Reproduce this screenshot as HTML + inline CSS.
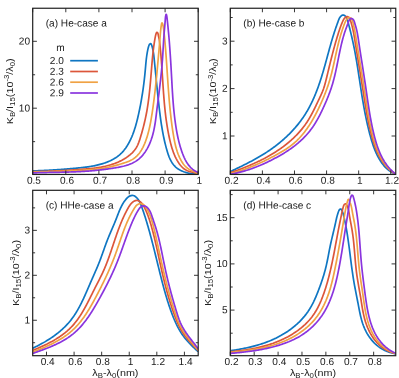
<!DOCTYPE html><html><head><meta charset="utf-8"><style>html,body{margin:0;padding:0;background:#fff}svg{display:block}text{font-family:"Liberation Sans",sans-serif;fill:#202020}</style></head><body>
<svg width="399" height="378" viewBox="0 0 399 378">
<rect width="399" height="378" fill="#fff"/>
<defs>
<clipPath id="ca"><rect x="32.7" y="8.2" width="165.5" height="166.2"/></clipPath>
<clipPath id="cb"><rect x="230.3" y="8.2" width="165.4" height="166.2"/></clipPath>
<clipPath id="cc"><rect x="32.7" y="190.3" width="165.5" height="165.4"/></clipPath>
<clipPath id="cd"><rect x="230.3" y="190.3" width="165.4" height="165.4"/></clipPath>
</defs>
<g clip-path="url(#ca)" fill="none" stroke-width="1.7" stroke-linejoin="round">
<path d="M32.50 170.90 L33.50 170.87 L34.49 170.84 L35.48 170.80 L36.48 170.77 L37.47 170.73 L38.47 170.69 L39.47 170.66 L40.46 170.61 L41.46 170.57 L42.46 170.53 L43.46 170.48 L44.45 170.44 L45.45 170.39 L46.45 170.34 L47.45 170.29 L48.45 170.23 L49.45 170.18 L50.45 170.12 L51.45 170.07 L52.45 170.01 L53.45 169.95 L54.45 169.89 L55.45 169.82 L56.45 169.76 L57.45 169.69 L58.45 169.62 L59.45 169.56 L60.45 169.49 L61.45 169.41 L62.45 169.34 L63.45 169.26 L64.45 169.19 L65.44 169.11 L66.44 169.03 L67.44 168.95 L68.44 168.87 L69.43 168.79 L70.43 168.70 L71.42 168.61 L72.42 168.53 L73.41 168.44 L74.40 168.35 L75.40 168.25 L76.39 168.16 L77.38 168.06 L78.37 167.97 L79.36 167.87 L80.35 167.77 L81.33 167.66 L82.32 167.55 L83.31 167.44 L84.29 167.33 L85.28 167.21 L86.26 167.08 L87.24 166.95 L88.22 166.81 L89.21 166.66 L90.19 166.51 L91.17 166.35 L92.15 166.17 L93.13 166.00 L94.10 165.81 L95.08 165.61 L96.06 165.40 L97.04 165.18 L98.01 164.94 L98.99 164.70 L99.96 164.44 L100.93 164.17 L101.91 163.89 L102.88 163.59 L103.84 163.28 L104.80 162.95 L105.76 162.61 L106.71 162.26 L107.65 161.89 L108.58 161.50 L109.51 161.09 L110.43 160.67 L111.33 160.23 L112.23 159.77 L113.11 159.30 L113.98 158.81 L114.83 158.29 L115.67 157.76 L116.50 157.21 L117.31 156.64 L118.10 156.05 L118.87 155.44 L119.62 154.80 L120.35 154.15 L121.07 153.47 L121.76 152.78 L122.44 152.06 L123.10 151.33 L123.74 150.58 L124.36 149.81 L124.96 149.03 L125.55 148.23 L126.12 147.42 L126.67 146.59 L127.21 145.75 L127.73 144.90 L128.24 144.04 L128.73 143.16 L129.21 142.28 L129.67 141.39 L130.12 140.49 L130.56 139.58 L130.98 138.67 L131.39 137.75 L131.79 136.83 L132.17 135.90 L132.55 134.97 L132.91 134.03 L133.26 133.09 L133.61 132.15 L133.94 131.21 L134.26 130.26 L134.57 129.31 L134.88 128.36 L135.17 127.40 L135.46 126.45 L135.74 125.49 L136.01 124.53 L136.28 123.56 L136.54 122.60 L136.79 121.63 L137.04 120.66 L137.28 119.69 L137.52 118.72 L137.75 117.75 L137.97 116.78 L138.20 115.81 L138.42 114.83 L138.63 113.86 L138.85 112.88 L139.06 111.91 L139.26 110.93 L139.47 109.95 L139.67 108.97 L139.87 108.00 L140.06 107.02 L140.25 106.04 L140.44 105.06 L140.63 104.08 L140.81 103.10 L140.99 102.12 L141.17 101.14 L141.34 100.16 L141.51 99.17 L141.68 98.19 L141.84 97.21 L142.00 96.22 L142.16 95.24 L142.32 94.25 L142.47 93.27 L142.62 92.28 L142.77 91.29 L142.92 90.31 L143.06 89.32 L143.20 88.33 L143.33 87.34 L143.47 86.35 L143.60 85.36 L143.73 84.37 L143.85 83.38 L143.98 82.39 L144.10 81.39 L144.22 80.40 L144.33 79.41 L144.44 78.41 L144.55 77.42 L144.66 76.42 L144.77 75.43 L144.87 74.43 L144.97 73.44 L145.06 72.44 L145.16 71.44 L145.25 70.44 L145.34 69.44 L145.43 68.44 L145.52 67.45 L145.60 66.45 L145.69 65.45 L145.78 64.45 L145.87 63.45 L145.97 62.45 L146.06 61.46 L146.17 60.46 L146.27 59.47 L146.39 58.47 L146.51 57.48 L146.64 56.50 L146.77 55.51 L146.92 54.53 L147.08 53.54 L147.24 52.57 L147.42 51.59 L147.61 50.62 L147.81 49.65 L148.03 48.68 L148.26 47.72 L148.52 46.75 L148.84 45.78 L149.24 44.78 L149.76 43.95 L150.74 43.66 L151.29 44.32 L151.70 45.29 L151.87 45.79 L152.03 46.29 L152.31 47.27 L152.57 48.24 L152.79 49.20 L152.99 50.17 L153.18 51.14 L153.34 52.11 L153.49 53.09 L153.63 54.08 L153.76 55.06 L153.87 56.05 L153.98 57.05 L154.09 58.04 L154.19 59.03 L154.29 60.03 L154.39 61.02 L154.49 62.02 L154.59 63.01 L154.69 64.01 L154.78 65.01 L154.88 66.00 L154.98 67.00 L155.08 68.00 L155.18 68.99 L155.28 69.99 L155.38 70.99 L155.47 71.98 L155.57 72.98 L155.67 73.98 L155.77 74.98 L155.87 75.97 L155.97 76.97 L156.07 77.97 L156.16 78.97 L156.26 79.96 L156.36 80.96 L156.46 81.96 L156.56 82.95 L156.66 83.95 L156.76 84.95 L156.86 85.94 L156.97 86.94 L157.07 87.94 L157.17 88.93 L157.27 89.93 L157.37 90.92 L157.48 91.92 L157.58 92.91 L157.69 93.91 L157.79 94.90 L157.90 95.89 L158.00 96.89 L158.11 97.88 L158.21 98.87 L158.32 99.86 L158.43 100.86 L158.54 101.85 L158.65 102.84 L158.76 103.83 L158.87 104.82 L158.98 105.81 L159.09 106.79 L159.21 107.78 L159.32 108.77 L159.44 109.76 L159.56 110.74 L159.67 111.73 L159.79 112.71 L159.92 113.70 L160.04 114.68 L160.17 115.67 L160.30 116.65 L160.43 117.64 L160.56 118.62 L160.70 119.60 L160.84 120.59 L160.98 121.57 L161.12 122.55 L161.27 123.54 L161.42 124.52 L161.57 125.50 L161.73 126.48 L161.89 127.46 L162.06 128.45 L162.22 129.43 L162.40 130.41 L162.57 131.39 L162.75 132.38 L162.94 133.36 L163.13 134.34 L163.32 135.32 L163.52 136.30 L163.72 137.29 L163.93 138.27 L164.14 139.25 L164.36 140.24 L164.58 141.22 L164.81 142.20 L165.05 143.19 L165.29 144.17 L165.53 145.15 L165.78 146.14 L166.04 147.12 L166.30 148.11 L166.57 149.09 L166.85 150.08 L167.14 151.06 L167.43 152.04 L167.74 153.02 L168.06 153.98 L168.39 154.94 L168.74 155.89 L169.10 156.83 L169.48 157.76 L169.88 158.67 L170.31 159.56 L170.75 160.44 L171.22 161.30 L171.71 162.14 L172.22 162.96 L172.77 163.75 L173.34 164.52 L173.94 165.26 L174.57 165.97 L175.24 166.65 L175.94 167.30 L176.67 167.92 L177.44 168.50 L178.25 169.05 L179.09 169.57 L179.95 170.05 L180.84 170.50 L181.76 170.92 L182.69 171.32 L183.65 171.68 L184.62 172.01 L185.60 172.32 L186.60 172.60 L187.60 172.86 L188.61 173.09 L189.62 173.29 L190.64 173.48 L191.65 173.64 L192.65 173.77 L193.65 173.89 L194.64 173.99 L195.62 174.07 L196.58 174.13 L197.53 174.17 L197.99 174.18" stroke="#0f76c2"/>
<path d="M32.49 171.70 L33.50 171.68 L34.51 171.65 L35.52 171.62 L36.53 171.59 L37.54 171.56 L38.54 171.53 L39.55 171.50 L40.55 171.47 L41.55 171.44 L42.55 171.41 L43.55 171.38 L44.55 171.34 L45.55 171.31 L46.54 171.27 L47.54 171.24 L48.54 171.20 L49.53 171.16 L50.52 171.12 L51.52 171.08 L52.51 171.04 L53.50 171.00 L54.50 170.96 L55.49 170.92 L56.48 170.87 L57.47 170.83 L58.46 170.78 L59.45 170.74 L60.44 170.69 L61.43 170.64 L62.42 170.59 L63.41 170.54 L64.41 170.48 L65.40 170.43 L66.39 170.37 L67.38 170.32 L68.37 170.26 L69.36 170.20 L70.36 170.14 L71.35 170.08 L72.34 170.01 L73.34 169.95 L74.33 169.88 L75.33 169.82 L76.33 169.75 L77.32 169.68 L78.32 169.60 L79.32 169.53 L80.32 169.46 L81.33 169.38 L82.33 169.30 L83.33 169.22 L84.34 169.14 L85.34 169.05 L86.35 168.97 L87.35 168.88 L88.36 168.78 L89.37 168.68 L90.37 168.58 L91.38 168.47 L92.38 168.36 L93.38 168.24 L94.38 168.12 L95.38 167.99 L96.38 167.85 L97.38 167.70 L98.37 167.55 L99.37 167.39 L100.36 167.22 L101.34 167.05 L102.33 166.86 L103.31 166.67 L104.28 166.46 L105.26 166.25 L106.23 166.02 L107.19 165.79 L108.16 165.54 L109.11 165.28 L110.07 165.01 L111.01 164.73 L111.96 164.43 L112.90 164.12 L113.83 163.80 L114.75 163.47 L115.67 163.12 L116.59 162.75 L117.50 162.37 L118.40 161.98 L119.29 161.57 L120.18 161.14 L121.06 160.70 L121.94 160.24 L122.80 159.76 L123.66 159.26 L124.51 158.75 L125.35 158.22 L126.19 157.67 L127.01 157.10 L127.83 156.51 L128.63 155.90 L129.43 155.28 L130.21 154.63 L130.97 153.96 L131.71 153.27 L132.43 152.56 L133.12 151.83 L133.79 151.08 L134.43 150.31 L135.04 149.52 L135.62 148.71 L136.15 147.87 L136.66 147.02 L137.13 146.15 L137.57 145.26 L137.98 144.35 L138.36 143.44 L138.73 142.51 L139.07 141.57 L139.40 140.62 L139.72 139.67 L140.03 138.71 L140.32 137.75 L140.62 136.78 L140.90 135.82 L141.19 134.86 L141.47 133.89 L141.75 132.93 L142.02 131.96 L142.29 131.00 L142.56 130.03 L142.82 129.07 L143.08 128.10 L143.33 127.13 L143.58 126.16 L143.82 125.19 L144.06 124.22 L144.30 123.25 L144.53 122.28 L144.76 121.31 L144.98 120.34 L145.20 119.37 L145.41 118.39 L145.62 117.42 L145.82 116.44 L146.02 115.46 L146.21 114.49 L146.40 113.51 L146.59 112.53 L146.77 111.55 L146.94 110.57 L147.11 109.58 L147.27 108.60 L147.43 107.62 L147.59 106.63 L147.74 105.65 L147.89 104.66 L148.04 103.67 L148.18 102.69 L148.31 101.70 L148.45 100.71 L148.58 99.72 L148.70 98.73 L148.83 97.74 L148.95 96.75 L149.06 95.76 L149.18 94.76 L149.29 93.77 L149.40 92.78 L149.51 91.78 L149.61 90.79 L149.71 89.80 L149.81 88.80 L149.91 87.81 L150.01 86.81 L150.10 85.81 L150.19 84.82 L150.28 83.82 L150.37 82.82 L150.46 81.83 L150.55 80.83 L150.63 79.83 L150.72 78.84 L150.80 77.84 L150.88 76.84 L150.96 75.84 L151.04 74.85 L151.13 73.85 L151.21 72.85 L151.29 71.85 L151.37 70.86 L151.45 69.86 L151.53 68.86 L151.61 67.87 L151.69 66.87 L151.77 65.87 L151.86 64.88 L151.94 63.88 L152.02 62.88 L152.11 61.89 L152.20 60.89 L152.28 59.90 L152.37 58.90 L152.47 57.91 L152.56 56.91 L152.66 55.92 L152.76 54.93 L152.86 53.93 L152.97 52.94 L153.08 51.95 L153.19 50.96 L153.31 49.97 L153.43 48.98 L153.55 47.99 L153.68 47.00 L153.81 46.01 L153.95 45.02 L154.09 44.03 L154.24 43.05 L154.39 42.06 L154.55 41.07 L154.71 40.09 L154.88 39.11 L155.06 38.12 L155.25 37.14 L155.44 36.16 L155.65 35.18 L155.91 34.18 L156.06 33.67 L156.23 33.16 L156.67 32.43 L157.53 32.67 L157.94 33.45 L158.19 34.47 L158.29 35.02 L158.39 35.56 L158.49 36.08 L158.71 37.07 L158.93 38.00 L159.12 38.94 L159.30 39.90 L159.45 40.87 L159.59 41.86 L159.71 42.85 L159.82 43.85 L159.88 44.35 L159.93 44.85 L159.98 45.35 L160.09 46.35 L160.19 47.35 L160.29 48.35 L160.39 49.35 L160.48 50.34 L160.58 51.34 L160.67 52.34 L160.76 53.34 L160.84 54.34 L160.93 55.34 L161.01 56.33 L161.09 57.33 L161.17 58.33 L161.25 59.33 L161.33 60.32 L161.41 61.32 L161.48 62.32 L161.55 63.32 L161.62 64.31 L161.70 65.31 L161.77 66.31 L161.83 67.30 L161.90 68.30 L161.97 69.29 L162.04 70.29 L162.10 71.29 L162.17 72.28 L162.23 73.28 L162.30 74.27 L162.36 75.27 L162.43 76.27 L162.49 77.26 L162.55 78.26 L162.62 79.25 L162.68 80.25 L162.74 81.24 L162.81 82.24 L162.87 83.23 L162.94 84.23 L163.00 85.23 L163.07 86.22 L163.14 87.22 L163.20 88.21 L163.27 89.21 L163.34 90.20 L163.41 91.20 L163.48 92.19 L163.55 93.19 L163.63 94.18 L163.70 95.18 L163.78 96.17 L163.85 97.17 L163.93 98.16 L164.01 99.16 L164.10 100.15 L164.18 101.15 L164.26 102.14 L164.35 103.14 L164.44 104.13 L164.53 105.13 L164.63 106.12 L164.72 107.12 L164.82 108.11 L164.92 109.10 L165.03 110.10 L165.14 111.09 L165.24 112.08 L165.36 113.07 L165.47 114.07 L165.59 115.06 L165.71 116.05 L165.83 117.04 L165.96 118.03 L166.09 119.02 L166.23 120.01 L166.37 121.00 L166.51 121.99 L166.65 122.98 L166.80 123.97 L166.95 124.95 L167.11 125.94 L167.27 126.93 L167.44 127.91 L167.60 128.90 L167.78 129.88 L167.96 130.87 L168.14 131.85 L168.33 132.83 L168.52 133.81 L168.71 134.80 L168.91 135.78 L169.12 136.76 L169.33 137.74 L169.55 138.71 L169.77 139.69 L169.99 140.67 L170.23 141.65 L170.47 142.62 L170.71 143.59 L170.97 144.56 L171.23 145.53 L171.50 146.49 L171.78 147.45 L172.07 148.41 L172.37 149.36 L172.69 150.31 L173.02 151.25 L173.36 152.19 L173.71 153.12 L174.08 154.05 L174.46 154.96 L174.86 155.87 L175.27 156.78 L175.70 157.67 L176.15 158.56 L176.62 159.44 L177.10 160.31 L177.61 161.17 L178.13 162.02 L178.68 162.86 L179.24 163.68 L179.83 164.49 L180.45 165.27 L181.09 166.03 L181.77 166.76 L182.47 167.46 L183.20 168.11 L183.96 168.73 L184.76 169.30 L185.60 169.82 L186.47 170.29 L187.38 170.70 L188.33 171.07 L189.29 171.39 L190.28 171.69 L191.28 171.96 L192.28 172.21 L193.28 172.46 L194.27 172.71 L195.24 172.97 L196.19 173.25 L197.11 173.56 L197.99 173.91 L197.99 173.91" stroke="#dc563a"/>
<path d="M32.50 172.11 L33.50 172.08 L34.50 172.06 L35.50 172.04 L36.50 172.01 L37.51 171.99 L38.51 171.97 L39.51 171.94 L40.51 171.92 L41.51 171.90 L42.51 171.87 L43.50 171.85 L44.50 171.82 L45.50 171.80 L46.50 171.77 L47.50 171.74 L48.50 171.72 L49.50 171.69 L50.49 171.66 L51.49 171.63 L52.49 171.60 L53.49 171.57 L54.49 171.54 L55.48 171.51 L56.48 171.47 L57.48 171.44 L58.48 171.41 L59.47 171.37 L60.47 171.33 L61.47 171.30 L62.46 171.26 L63.46 171.22 L64.46 171.18 L65.46 171.14 L66.45 171.10 L67.45 171.05 L68.45 171.01 L69.45 170.96 L70.44 170.92 L71.44 170.87 L72.44 170.82 L73.44 170.77 L74.44 170.72 L75.44 170.66 L76.43 170.61 L77.43 170.55 L78.43 170.49 L79.43 170.43 L80.43 170.37 L81.43 170.31 L82.43 170.25 L83.43 170.18 L84.43 170.11 L85.43 170.04 L86.43 169.97 L87.43 169.90 L88.43 169.82 L89.43 169.74 L90.43 169.66 L91.43 169.57 L92.43 169.48 L93.43 169.38 L94.43 169.28 L95.42 169.18 L96.42 169.07 L97.41 168.95 L98.40 168.83 L99.39 168.70 L100.38 168.57 L101.37 168.43 L102.35 168.28 L103.33 168.13 L104.31 167.97 L105.29 167.80 L106.27 167.62 L107.24 167.43 L108.21 167.24 L109.18 167.03 L110.14 166.82 L111.11 166.60 L112.07 166.37 L113.03 166.13 L113.99 165.89 L114.95 165.64 L115.91 165.38 L116.87 165.11 L117.84 164.84 L118.80 164.56 L119.77 164.28 L120.74 163.99 L121.72 163.70 L122.69 163.40 L123.67 163.09 L124.65 162.78 L125.63 162.45 L126.60 162.11 L127.55 161.75 L128.50 161.37 L129.43 160.97 L130.34 160.55 L131.24 160.10 L132.10 159.62 L132.95 159.11 L133.76 158.57 L134.55 158.00 L135.30 157.39 L136.04 156.76 L136.74 156.09 L137.42 155.40 L138.07 154.68 L138.71 153.94 L139.31 153.18 L139.90 152.39 L140.46 151.58 L141.00 150.76 L141.52 149.91 L142.02 149.05 L142.50 148.17 L142.97 147.28 L143.41 146.38 L143.84 145.46 L144.25 144.53 L144.65 143.60 L145.03 142.65 L145.40 141.70 L145.75 140.75 L146.09 139.79 L146.42 138.83 L146.74 137.86 L147.05 136.90 L147.34 135.93 L147.63 134.97 L147.91 134.00 L148.17 133.03 L148.43 132.06 L148.68 131.10 L148.92 130.13 L149.15 129.16 L149.38 128.18 L149.59 127.21 L149.80 126.24 L150.01 125.27 L150.21 124.29 L150.40 123.32 L150.58 122.34 L150.77 121.36 L150.94 120.39 L151.11 119.41 L151.28 118.43 L151.44 117.45 L151.61 116.47 L151.76 115.49 L151.92 114.51 L152.07 113.52 L152.22 112.54 L152.37 111.55 L152.51 110.57 L152.66 109.58 L152.80 108.60 L152.94 107.61 L153.08 106.62 L153.22 105.63 L153.35 104.64 L153.48 103.65 L153.62 102.66 L153.75 101.67 L153.87 100.68 L154.00 99.69 L154.13 98.70 L154.25 97.71 L154.37 96.71 L154.49 95.72 L154.61 94.72 L154.73 93.73 L154.84 92.74 L154.96 91.74 L155.07 90.75 L155.18 89.75 L155.30 88.76 L155.41 87.76 L155.51 86.76 L155.62 85.77 L155.73 84.77 L155.83 83.78 L155.94 82.78 L156.04 81.78 L156.14 80.79 L156.24 79.79 L156.34 78.79 L156.44 77.80 L156.54 76.80 L156.64 75.81 L156.74 74.81 L156.83 73.81 L156.93 72.82 L157.02 71.82 L157.12 70.83 L157.21 69.83 L157.30 68.84 L157.39 67.84 L157.48 66.85 L157.57 65.86 L157.67 64.86 L157.76 63.87 L157.84 62.88 L157.93 61.89 L158.02 60.89 L158.11 59.90 L158.20 58.91 L158.29 57.92 L158.37 56.93 L158.46 55.94 L158.55 54.95 L158.63 53.96 L158.72 52.96 L158.81 51.97 L158.89 50.98 L158.98 49.99 L159.06 48.99 L159.15 48.00 L159.23 47.01 L159.32 46.01 L159.40 45.01 L159.49 44.02 L159.57 43.02 L159.66 42.02 L159.70 41.52 L159.74 41.02 L159.78 40.52 L159.82 40.02 L159.87 39.51 L159.91 39.01 L159.95 38.51 L159.99 38.01 L160.04 37.50 L160.08 37.00 L160.12 36.50 L160.16 35.99 L160.21 35.49 L160.25 34.99 L160.29 34.48 L160.33 33.98 L160.38 33.48 L160.47 32.49 L160.56 31.49 L160.65 30.51 L160.75 29.54 L160.85 28.57 L160.97 27.59 L161.10 26.60 L161.18 26.10 L161.26 25.58 L161.35 25.06 L161.46 24.52 L161.57 23.98 L161.69 23.44 L161.99 22.81 L162.57 23.79 L162.73 24.29 L162.87 24.79 L163.10 25.79 L163.27 26.78 L163.43 27.77 L163.57 28.76 L163.70 29.76 L163.82 30.75 L163.93 31.74 L164.04 32.73 L164.14 33.72 L164.25 34.71 L164.35 35.70 L164.45 36.70 L164.55 37.69 L164.65 38.68 L164.74 39.68 L164.83 40.67 L164.93 41.66 L165.02 42.66 L165.10 43.65 L165.19 44.65 L165.28 45.64 L165.36 46.64 L165.44 47.63 L165.53 48.63 L165.61 49.62 L165.69 50.62 L165.76 51.62 L165.84 52.61 L165.92 53.61 L165.99 54.61 L166.07 55.60 L166.14 56.60 L166.21 57.60 L166.28 58.60 L166.36 59.59 L166.43 60.59 L166.50 61.59 L166.56 62.59 L166.63 63.58 L166.70 64.58 L166.77 65.58 L166.84 66.58 L166.90 67.58 L166.97 68.57 L167.04 69.57 L167.10 70.57 L167.17 71.57 L167.24 72.57 L167.30 73.56 L167.37 74.56 L167.43 75.56 L167.50 76.56 L167.57 77.56 L167.63 78.56 L167.70 79.55 L167.77 80.55 L167.84 81.55 L167.90 82.55 L167.97 83.55 L168.04 84.54 L168.11 85.54 L168.18 86.54 L168.25 87.54 L168.32 88.53 L168.40 89.53 L168.47 90.53 L168.54 91.52 L168.62 92.52 L168.70 93.52 L168.77 94.51 L168.85 95.51 L168.93 96.51 L169.01 97.50 L169.09 98.50 L169.17 99.49 L169.26 100.49 L169.34 101.49 L169.43 102.48 L169.52 103.48 L169.61 104.47 L169.70 105.47 L169.79 106.46 L169.89 107.46 L169.99 108.45 L170.08 109.44 L170.18 110.44 L170.29 111.43 L170.39 112.42 L170.50 113.42 L170.60 114.41 L170.72 115.40 L170.83 116.40 L170.94 117.39 L171.06 118.38 L171.18 119.37 L171.30 120.36 L171.42 121.36 L171.55 122.35 L171.68 123.34 L171.81 124.33 L171.94 125.32 L172.08 126.31 L172.22 127.30 L172.36 128.29 L172.51 129.28 L172.65 130.27 L172.80 131.25 L172.96 132.24 L173.11 133.23 L173.27 134.22 L173.44 135.21 L173.60 136.19 L173.77 137.18 L173.95 138.16 L174.13 139.15 L174.32 140.13 L174.51 141.11 L174.71 142.09 L174.93 143.07 L175.14 144.04 L175.37 145.01 L175.61 145.98 L175.86 146.95 L176.12 147.91 L176.40 148.87 L176.68 149.82 L176.98 150.77 L177.29 151.72 L177.62 152.66 L177.96 153.60 L178.32 154.53 L178.70 155.45 L179.09 156.37 L179.50 157.29 L179.93 158.20 L180.38 159.10 L180.84 160.00 L181.33 160.88 L181.85 161.75 L182.38 162.60 L182.95 163.43 L183.54 164.24 L184.16 165.01 L184.81 165.76 L185.50 166.47 L186.21 167.15 L186.97 167.79 L187.76 168.38 L188.59 168.92 L189.44 169.44 L190.32 169.92 L191.22 170.37 L192.13 170.81 L193.05 171.23 L193.97 171.65 L194.89 172.07 L195.80 172.49 L196.70 172.92 L197.57 173.37 L198.00 173.60" stroke="#f0a244"/>
<path d="M32.51 172.92 L33.50 172.88 L34.49 172.85 L35.48 172.81 L36.47 172.78 L37.46 172.75 L38.45 172.72 L39.45 172.70 L40.44 172.67 L41.44 172.65 L42.43 172.62 L43.43 172.60 L44.43 172.58 L45.43 172.55 L46.43 172.53 L47.43 172.51 L48.43 172.49 L49.44 172.47 L50.44 172.45 L51.44 172.44 L52.44 172.42 L53.45 172.40 L54.45 172.38 L55.46 172.36 L56.46 172.34 L57.47 172.32 L58.47 172.30 L59.48 172.28 L60.48 172.26 L61.49 172.24 L62.49 172.21 L63.50 172.19 L64.50 172.16 L65.51 172.14 L66.51 172.11 L67.51 172.08 L68.52 172.05 L69.52 172.02 L70.52 171.99 L71.53 171.96 L72.53 171.92 L73.53 171.88 L74.53 171.85 L75.53 171.80 L76.53 171.76 L77.53 171.72 L78.52 171.67 L79.52 171.62 L80.52 171.57 L81.51 171.51 L82.50 171.45 L83.50 171.39 L84.49 171.33 L85.48 171.27 L86.46 171.20 L87.45 171.13 L88.44 171.05 L89.42 170.98 L90.41 170.90 L91.39 170.81 L92.37 170.73 L93.36 170.64 L94.34 170.54 L95.32 170.45 L96.30 170.35 L97.29 170.25 L98.27 170.14 L99.25 170.03 L100.24 169.92 L101.22 169.81 L102.21 169.69 L103.20 169.57 L104.18 169.44 L105.17 169.31 L106.16 169.18 L107.16 169.05 L108.15 168.91 L109.15 168.77 L110.15 168.62 L111.15 168.47 L112.15 168.32 L113.16 168.16 L114.17 168.00 L115.18 167.84 L116.19 167.67 L117.20 167.49 L118.21 167.31 L119.21 167.12 L120.22 166.92 L121.22 166.70 L122.22 166.48 L123.21 166.24 L124.19 166.00 L125.17 165.73 L126.14 165.45 L127.10 165.16 L128.05 164.85 L128.99 164.52 L129.92 164.17 L130.83 163.80 L131.74 163.41 L132.62 163.00 L133.50 162.56 L134.35 162.10 L135.19 161.62 L136.02 161.11 L136.82 160.57 L137.60 160.01 L138.37 159.41 L139.11 158.80 L139.84 158.15 L140.54 157.49 L141.23 156.79 L141.90 156.08 L142.55 155.35 L143.18 154.59 L143.79 153.82 L144.39 153.02 L144.97 152.21 L145.53 151.38 L146.07 150.54 L146.59 149.68 L147.10 148.81 L147.59 147.93 L148.06 147.03 L148.52 146.12 L148.96 145.21 L149.38 144.28 L149.79 143.35 L150.18 142.41 L150.55 141.46 L150.91 140.51 L151.26 139.55 L151.58 138.59 L151.90 137.63 L152.20 136.67 L152.48 135.70 L152.75 134.74 L153.01 133.77 L153.25 132.80 L153.49 131.83 L153.71 130.86 L153.92 129.88 L154.12 128.91 L154.32 127.93 L154.50 126.95 L154.68 125.97 L154.84 124.99 L155.00 124.01 L155.16 123.03 L155.31 122.04 L155.45 121.06 L155.59 120.07 L155.72 119.09 L155.85 118.10 L155.98 117.12 L156.11 116.13 L156.23 115.14 L156.35 114.15 L156.47 113.16 L156.60 112.17 L156.72 111.18 L156.84 110.19 L156.96 109.20 L157.09 108.21 L157.21 107.22 L157.34 106.23 L157.46 105.24 L157.59 104.25 L157.71 103.26 L157.84 102.27 L157.96 101.28 L158.09 100.29 L158.21 99.29 L158.34 98.30 L158.46 97.31 L158.59 96.32 L158.71 95.32 L158.84 94.33 L158.96 93.34 L159.08 92.35 L159.21 91.35 L159.33 90.36 L159.45 89.37 L159.57 88.37 L159.69 87.38 L159.81 86.38 L159.93 85.39 L160.04 84.40 L160.16 83.40 L160.27 82.41 L160.39 81.41 L160.50 80.42 L160.61 79.43 L160.72 78.43 L160.83 77.44 L160.94 76.44 L161.04 75.45 L161.15 74.45 L161.25 73.46 L161.35 72.46 L161.45 71.47 L161.54 70.47 L161.64 69.48 L161.73 68.48 L161.82 67.49 L161.91 66.49 L162.00 65.50 L162.08 64.50 L162.16 63.51 L162.24 62.51 L162.32 61.51 L162.40 60.52 L162.47 59.52 L162.54 58.53 L162.61 57.53 L162.67 56.54 L162.74 55.54 L162.80 54.55 L162.86 53.55 L162.92 52.56 L162.98 51.56 L163.04 50.57 L163.09 49.57 L163.15 48.57 L163.21 47.58 L163.27 46.58 L163.32 45.58 L163.38 44.59 L163.44 43.59 L163.50 42.59 L163.56 41.60 L163.62 40.60 L163.69 39.60 L163.75 38.60 L163.82 37.61 L163.89 36.61 L163.96 35.61 L164.03 34.61 L164.11 33.61 L164.19 32.61 L164.27 31.61 L164.36 30.61 L164.44 29.61 L164.53 28.62 L164.62 27.62 L164.71 26.62 L164.79 25.62 L164.88 24.63 L164.96 23.63 L165.04 22.64 L165.12 21.65 L165.20 20.66 L165.27 19.67 L165.34 18.68 L165.42 17.69 L165.48 17.19 L165.55 16.68 L165.63 16.17 L165.73 15.65 L165.84 15.12 L166.12 14.28 L166.56 15.02 L166.68 15.60 L166.78 16.16 L166.86 16.68 L166.93 17.19 L167.05 18.16 L167.16 19.12 L167.27 20.11 L167.38 21.10 L167.49 22.10 L167.59 23.09 L167.70 24.09 L167.80 25.09 L167.91 26.08 L168.01 27.08 L168.10 28.07 L168.20 29.07 L168.30 30.07 L168.39 31.06 L168.48 32.06 L168.58 33.06 L168.67 34.05 L168.76 35.05 L168.84 36.04 L168.93 37.04 L169.01 38.04 L169.10 39.03 L169.18 40.03 L169.26 41.02 L169.34 42.02 L169.42 43.02 L169.50 44.01 L169.57 45.01 L169.65 46.01 L169.72 47.00 L169.80 48.00 L169.87 48.99 L169.94 49.99 L170.01 50.99 L170.08 51.98 L170.15 52.98 L170.22 53.98 L170.28 54.97 L170.35 55.97 L170.41 56.97 L170.48 57.96 L170.54 58.96 L170.61 59.96 L170.67 60.95 L170.73 61.95 L170.79 62.95 L170.85 63.94 L170.91 64.94 L170.97 65.94 L171.03 66.93 L171.08 67.93 L171.14 68.93 L171.20 69.93 L171.25 70.92 L171.31 71.92 L171.36 72.92 L171.42 73.91 L171.47 74.91 L171.53 75.91 L171.58 76.91 L171.64 77.91 L171.69 78.90 L171.74 79.90 L171.80 80.90 L171.85 81.90 L171.91 82.89 L171.96 83.89 L172.02 84.89 L172.07 85.89 L172.13 86.89 L172.19 87.88 L172.25 88.88 L172.30 89.88 L172.36 90.88 L172.43 91.87 L172.49 92.87 L172.55 93.87 L172.62 94.86 L172.68 95.86 L172.75 96.86 L172.82 97.85 L172.89 98.85 L172.97 99.85 L173.04 100.84 L173.12 101.84 L173.20 102.84 L173.28 103.83 L173.36 104.83 L173.44 105.82 L173.53 106.82 L173.62 107.81 L173.71 108.81 L173.81 109.80 L173.91 110.79 L174.01 111.79 L174.11 112.78 L174.22 113.77 L174.33 114.77 L174.44 115.76 L174.56 116.75 L174.68 117.74 L174.80 118.73 L174.92 119.73 L175.05 120.72 L175.19 121.71 L175.32 122.70 L175.46 123.69 L175.61 124.68 L175.76 125.66 L175.91 126.65 L176.07 127.64 L176.23 128.63 L176.39 129.62 L176.56 130.60 L176.74 131.59 L176.92 132.57 L177.10 133.56 L177.30 134.54 L177.49 135.52 L177.70 136.50 L177.91 137.48 L178.12 138.45 L178.34 139.43 L178.57 140.40 L178.81 141.38 L179.06 142.35 L179.31 143.31 L179.57 144.28 L179.84 145.24 L180.11 146.20 L180.40 147.16 L180.69 148.12 L181.00 149.07 L181.31 150.02 L181.63 150.97 L181.96 151.92 L182.30 152.86 L182.65 153.80 L183.02 154.73 L183.39 155.66 L183.78 156.58 L184.18 157.50 L184.60 158.40 L185.03 159.30 L185.48 160.18 L185.96 161.05 L186.45 161.91 L186.96 162.74 L187.50 163.57 L188.05 164.37 L188.64 165.15 L189.25 165.91 L189.89 166.65 L190.55 167.36 L191.25 168.05 L191.98 168.71 L192.74 169.35 L193.53 169.95 L194.36 170.52 L195.22 171.06 L196.12 171.57 L197.06 172.04 L198.04 172.47 L198.04 172.47" stroke="#8a34de"/>
</g>
<path d="M32.70 174.45 v-4.0 M32.70 8.25 v4.0 M65.80 174.45 v-4.0 M65.80 8.25 v4.0 M98.90 174.45 v-4.0 M98.90 8.25 v4.0 M132.00 174.45 v-4.0 M132.00 8.25 v4.0 M165.10 174.45 v-4.0 M165.10 8.25 v4.0 M198.20 174.45 v-4.0 M198.20 8.25 v4.0 M32.70 108.20 h4.2 M198.20 108.20 h-4.2 M32.70 41.30 h4.2 M198.20 41.30 h-4.2 M32.70 141.65 h2.4 M198.20 141.65 h-2.4 M32.70 74.75 h2.4 M198.20 74.75 h-2.4" stroke="#202020" stroke-width="0.9" fill="none"/>
<rect x="32.70" y="8.25" width="165.50" height="166.20" fill="none" stroke="#202020" stroke-width="1.2"/>
<g clip-path="url(#cb)" fill="none" stroke-width="1.7" stroke-linejoin="round">
<path d="M230.29 171.60 L231.20 171.17 L232.11 170.74 L233.02 170.30 L233.92 169.87 L234.83 169.44 L235.73 169.01 L236.64 168.57 L237.54 168.14 L238.44 167.70 L239.34 167.27 L240.24 166.83 L241.14 166.39 L242.04 165.94 L242.93 165.50 L243.83 165.05 L244.72 164.61 L245.61 164.16 L246.50 163.70 L247.39 163.25 L248.27 162.79 L249.16 162.33 L250.04 161.87 L250.92 161.40 L251.80 160.94 L252.67 160.46 L253.55 159.99 L254.42 159.51 L255.29 159.03 L256.16 158.54 L257.02 158.05 L257.88 157.56 L258.74 157.06 L259.60 156.56 L260.46 156.06 L261.31 155.55 L262.16 155.03 L263.01 154.51 L263.85 153.99 L264.69 153.46 L265.53 152.93 L266.37 152.39 L267.20 151.85 L268.03 151.30 L268.86 150.74 L269.68 150.18 L270.50 149.62 L271.32 149.04 L272.14 148.47 L272.95 147.88 L273.75 147.29 L274.56 146.70 L275.36 146.10 L276.16 145.49 L276.95 144.88 L277.74 144.26 L278.52 143.63 L279.30 143.00 L280.08 142.36 L280.85 141.72 L281.62 141.07 L282.38 140.42 L283.14 139.76 L283.89 139.09 L284.64 138.42 L285.38 137.74 L286.12 137.06 L286.85 136.37 L287.58 135.68 L288.30 134.98 L289.02 134.28 L289.73 133.56 L290.43 132.85 L291.13 132.13 L291.82 131.40 L292.51 130.67 L293.19 129.93 L293.86 129.19 L294.53 128.44 L295.19 127.69 L295.85 126.93 L296.49 126.17 L297.13 125.40 L297.77 124.62 L298.39 123.85 L299.01 123.06 L299.63 122.27 L300.23 121.48 L300.83 120.68 L301.42 119.87 L302.00 119.06 L302.57 118.25 L303.14 117.43 L303.70 116.61 L304.25 115.78 L304.79 114.94 L305.32 114.11 L305.85 113.26 L306.36 112.41 L306.87 111.56 L307.38 110.71 L307.87 109.84 L308.36 108.98 L308.84 108.11 L309.31 107.24 L309.77 106.36 L310.23 105.48 L310.68 104.59 L311.13 103.70 L311.56 102.81 L311.99 101.91 L312.42 101.01 L312.84 100.11 L313.25 99.20 L313.66 98.30 L314.06 97.38 L314.45 96.47 L314.84 95.55 L315.22 94.63 L315.60 93.70 L315.97 92.78 L316.34 91.85 L316.70 90.92 L317.06 89.98 L317.41 89.05 L317.76 88.11 L318.10 87.17 L318.44 86.23 L318.77 85.28 L319.10 84.34 L319.43 83.39 L319.75 82.44 L320.06 81.49 L320.38 80.54 L320.69 79.59 L320.99 78.63 L321.30 77.67 L321.60 76.72 L321.89 75.76 L322.19 74.80 L322.48 73.84 L322.76 72.88 L323.05 71.92 L323.33 70.96 L323.61 70.00 L323.89 69.03 L324.16 68.07 L324.44 67.11 L324.71 66.14 L324.98 65.18 L325.24 64.21 L325.51 63.25 L325.78 62.29 L326.04 61.32 L326.31 60.36 L326.57 59.39 L326.83 58.43 L327.09 57.46 L327.35 56.50 L327.62 55.53 L327.88 54.57 L328.14 53.60 L328.40 52.64 L328.66 51.68 L328.93 50.71 L329.19 49.75 L329.45 48.79 L329.72 47.83 L329.99 46.87 L330.26 45.91 L330.53 44.95 L330.80 43.99 L331.07 43.03 L331.35 42.07 L331.62 41.11 L331.90 40.16 L332.19 39.20 L332.47 38.25 L332.76 37.29 L333.05 36.34 L333.35 35.39 L333.64 34.44 L333.95 33.49 L334.25 32.54 L334.56 31.60 L334.87 30.65 L335.19 29.71 L335.51 28.76 L335.83 27.82 L336.16 26.88 L336.49 25.94 L336.83 25.00 L337.17 24.06 L337.50 23.12 L337.84 22.17 L338.17 21.22 L338.52 20.26 L338.89 19.32 L339.31 18.41 L339.81 17.54 L340.40 16.72 L341.10 15.98 L341.91 15.37 L342.77 15.03 L343.65 15.06 L344.51 15.47 L345.29 16.12 L345.96 16.90 L346.51 17.74 L346.95 18.63 L347.31 19.56 L347.62 20.51 L347.89 21.48 L348.15 22.45 L348.41 23.43 L348.66 24.40 L348.92 25.37 L349.17 26.34 L349.42 27.31 L349.67 28.29 L349.91 29.26 L350.16 30.23 L350.40 31.20 L350.64 32.17 L350.87 33.14 L351.11 34.11 L351.34 35.08 L351.57 36.05 L351.80 37.02 L352.02 37.99 L352.24 38.96 L352.46 39.93 L352.68 40.90 L352.89 41.87 L353.10 42.85 L353.31 43.82 L353.52 44.79 L353.72 45.77 L353.92 46.74 L354.12 47.72 L354.31 48.70 L354.50 49.67 L354.69 50.65 L354.88 51.63 L355.06 52.61 L355.24 53.59 L355.42 54.57 L355.60 55.56 L355.78 56.54 L355.95 57.52 L356.12 58.50 L356.29 59.49 L356.46 60.47 L356.62 61.46 L356.79 62.44 L356.95 63.43 L357.11 64.41 L357.27 65.40 L357.43 66.39 L357.59 67.37 L357.75 68.36 L357.90 69.35 L358.06 70.34 L358.21 71.32 L358.37 72.31 L358.52 73.30 L358.67 74.29 L358.82 75.28 L358.97 76.27 L359.12 77.26 L359.27 78.25 L359.42 79.23 L359.57 80.22 L359.72 81.21 L359.87 82.20 L360.02 83.19 L360.17 84.18 L360.32 85.17 L360.48 86.16 L360.63 87.15 L360.78 88.14 L360.93 89.13 L361.08 90.11 L361.24 91.10 L361.39 92.09 L361.55 93.08 L361.71 94.07 L361.86 95.05 L362.02 96.04 L362.18 97.03 L362.34 98.01 L362.51 99.00 L362.67 99.99 L362.84 100.97 L363.00 101.96 L363.17 102.94 L363.34 103.93 L363.52 104.91 L363.69 105.89 L363.87 106.88 L364.04 107.86 L364.22 108.84 L364.40 109.82 L364.59 110.80 L364.77 111.78 L364.96 112.77 L365.15 113.75 L365.35 114.72 L365.54 115.70 L365.74 116.68 L365.94 117.66 L366.14 118.64 L366.35 119.61 L366.56 120.59 L366.77 121.56 L366.99 122.54 L367.20 123.51 L367.42 124.49 L367.65 125.46 L367.87 126.43 L368.10 127.40 L368.34 128.37 L368.57 129.34 L368.82 130.31 L369.06 131.28 L369.31 132.25 L369.56 133.21 L369.81 134.18 L370.07 135.14 L370.33 136.11 L370.60 137.07 L370.87 138.03 L371.15 138.99 L371.43 139.95 L371.71 140.91 L372.01 141.87 L372.31 142.82 L372.62 143.77 L372.93 144.72 L373.25 145.66 L373.59 146.60 L373.93 147.54 L374.28 148.48 L374.64 149.41 L375.01 150.33 L375.39 151.25 L375.79 152.17 L376.19 153.08 L376.61 153.99 L377.04 154.89 L377.49 155.78 L377.95 156.67 L378.42 157.55 L378.91 158.43 L379.41 159.30 L379.93 160.16 L380.47 161.01 L381.02 161.85 L381.59 162.67 L382.18 163.49 L382.79 164.29 L383.41 165.07 L384.05 165.83 L384.72 166.58 L385.40 167.30 L386.10 168.01 L386.82 168.69 L387.57 169.34 L388.33 169.97 L389.12 170.57 L389.93 171.14 L390.76 171.68 L391.62 172.19 L392.50 172.67 L393.40 173.11 L394.33 173.51 L394.80 173.70" stroke="#0f76c2"/>
<path d="M230.31 172.82 L231.25 172.49 L232.19 172.15 L233.12 171.82 L234.06 171.48 L235.00 171.14 L235.93 170.79 L236.87 170.44 L237.81 170.10 L238.74 169.74 L239.67 169.39 L240.61 169.03 L241.54 168.67 L242.47 168.31 L243.40 167.94 L244.33 167.57 L245.25 167.19 L246.18 166.82 L247.10 166.44 L248.03 166.05 L248.95 165.67 L249.87 165.27 L250.79 164.88 L251.70 164.48 L252.62 164.08 L253.53 163.67 L254.44 163.26 L255.35 162.84 L256.26 162.42 L257.17 162.00 L258.07 161.57 L258.97 161.13 L259.87 160.70 L260.76 160.25 L261.66 159.81 L262.55 159.35 L263.44 158.90 L264.32 158.43 L265.21 157.97 L266.09 157.49 L266.97 157.02 L267.84 156.53 L268.71 156.04 L269.58 155.55 L270.45 155.05 L271.31 154.54 L272.17 154.03 L273.02 153.51 L273.88 152.99 L274.73 152.46 L275.57 151.92 L276.41 151.38 L277.25 150.83 L278.08 150.28 L278.91 149.72 L279.74 149.15 L280.56 148.58 L281.38 148.00 L282.19 147.42 L283.00 146.82 L283.80 146.23 L284.59 145.62 L285.39 145.01 L286.17 144.39 L286.95 143.77 L287.73 143.14 L288.50 142.50 L289.26 141.86 L290.02 141.21 L290.77 140.55 L291.51 139.89 L292.25 139.22 L292.98 138.54 L293.71 137.86 L294.43 137.17 L295.14 136.47 L295.84 135.77 L296.54 135.06 L297.23 134.34 L297.91 133.62 L298.58 132.89 L299.25 132.15 L299.91 131.40 L300.56 130.65 L301.20 129.89 L301.83 129.13 L302.46 128.35 L303.07 127.57 L303.68 126.78 L304.28 125.99 L304.87 125.19 L305.45 124.38 L306.02 123.56 L306.58 122.74 L307.13 121.91 L307.67 121.07 L308.21 120.22 L308.73 119.37 L309.24 118.51 L309.75 117.65 L310.25 116.78 L310.74 115.90 L311.22 115.02 L311.70 114.13 L312.17 113.25 L312.64 112.35 L313.10 111.46 L313.55 110.56 L314.00 109.66 L314.45 108.75 L314.89 107.85 L315.33 106.94 L315.77 106.03 L316.20 105.12 L316.64 104.22 L317.07 103.31 L317.50 102.40 L317.93 101.49 L318.36 100.59 L318.79 99.68 L319.22 98.78 L319.65 97.88 L320.08 96.98 L320.50 96.08 L320.91 95.17 L321.32 94.27 L321.72 93.36 L322.11 92.45 L322.49 91.54 L322.85 90.62 L323.20 89.69 L323.54 88.76 L323.86 87.82 L324.16 86.88 L324.45 85.93 L324.73 84.98 L325.00 84.02 L325.26 83.06 L325.52 82.10 L325.76 81.13 L326.01 80.16 L326.24 79.19 L326.48 78.22 L326.72 77.25 L326.95 76.27 L327.19 75.30 L327.42 74.33 L327.66 73.35 L327.89 72.38 L328.13 71.40 L328.36 70.43 L328.60 69.45 L328.84 68.48 L329.07 67.50 L329.31 66.53 L329.55 65.55 L329.79 64.58 L330.03 63.60 L330.27 62.63 L330.51 61.66 L330.75 60.68 L330.99 59.71 L331.24 58.73 L331.48 57.76 L331.73 56.79 L331.98 55.82 L332.23 54.85 L332.48 53.88 L332.73 52.91 L332.99 51.94 L333.24 50.97 L333.50 50.00 L333.76 49.04 L334.02 48.07 L334.28 47.11 L334.55 46.14 L334.81 45.18 L335.08 44.22 L335.35 43.26 L335.62 42.30 L335.90 41.34 L336.18 40.39 L336.46 39.43 L336.74 38.48 L337.02 37.53 L337.31 36.58 L337.60 35.63 L337.90 34.68 L338.19 33.74 L338.49 32.80 L338.79 31.85 L339.10 30.91 L339.41 29.98 L339.73 29.04 L340.05 28.10 L340.38 27.16 L340.73 26.23 L341.08 25.29 L341.45 24.35 L341.83 23.41 L342.22 22.47 L342.63 21.53 L343.06 20.59 L343.53 19.69 L344.05 18.84 L344.65 18.08 L345.36 17.44 L346.18 16.94 L347.12 16.68 L348.08 16.88 L348.91 17.52 L349.53 18.32 L349.97 19.21 L350.32 20.15 L350.64 21.09 L350.94 22.04 L351.24 22.99 L351.52 23.94 L351.78 24.90 L352.04 25.86 L352.28 26.83 L352.52 27.79 L352.74 28.76 L352.96 29.74 L353.17 30.71 L353.37 31.69 L353.56 32.67 L353.74 33.65 L353.93 34.63 L354.10 35.61 L354.27 36.60 L354.44 37.58 L354.60 38.57 L354.76 39.56 L354.92 40.55 L355.08 41.53 L355.23 42.52 L355.39 43.51 L355.55 44.50 L355.70 45.49 L355.86 46.48 L356.02 47.47 L356.18 48.46 L356.34 49.45 L356.50 50.44 L356.66 51.43 L356.82 52.41 L356.98 53.40 L357.14 54.39 L357.30 55.38 L357.47 56.37 L357.63 57.36 L357.79 58.35 L357.95 59.33 L358.11 60.32 L358.28 61.31 L358.44 62.30 L358.60 63.29 L358.77 64.27 L358.93 65.26 L359.09 66.25 L359.25 67.24 L359.42 68.22 L359.58 69.21 L359.74 70.20 L359.90 71.19 L360.07 72.17 L360.23 73.16 L360.39 74.15 L360.55 75.13 L360.71 76.12 L360.88 77.11 L361.04 78.09 L361.20 79.08 L361.36 80.07 L361.52 81.05 L361.68 82.04 L361.84 83.02 L361.99 84.01 L362.15 84.99 L362.31 85.98 L362.47 86.96 L362.62 87.95 L362.78 88.93 L362.93 89.92 L363.09 90.90 L363.24 91.89 L363.40 92.87 L363.55 93.86 L363.70 94.84 L363.86 95.82 L364.01 96.81 L364.16 97.79 L364.32 98.77 L364.47 99.76 L364.63 100.74 L364.79 101.72 L364.94 102.71 L365.10 103.69 L365.26 104.67 L365.42 105.65 L365.58 106.63 L365.75 107.62 L365.91 108.60 L366.08 109.58 L366.25 110.56 L366.42 111.54 L366.59 112.52 L366.77 113.50 L366.94 114.48 L367.12 115.46 L367.31 116.44 L367.49 117.42 L367.68 118.40 L367.87 119.38 L368.07 120.36 L368.26 121.34 L368.46 122.32 L368.67 123.30 L368.88 124.28 L369.09 125.25 L369.30 126.23 L369.52 127.21 L369.75 128.19 L369.97 129.17 L370.21 130.14 L370.44 131.12 L370.68 132.10 L370.93 133.07 L371.18 134.05 L371.43 135.03 L371.69 136.00 L371.96 136.98 L372.23 137.95 L372.51 138.92 L372.79 139.89 L373.08 140.86 L373.38 141.83 L373.69 142.79 L374.00 143.75 L374.32 144.71 L374.65 145.66 L374.99 146.61 L375.34 147.55 L375.70 148.49 L376.07 149.42 L376.45 150.35 L376.84 151.27 L377.24 152.18 L377.65 153.09 L378.07 153.99 L378.51 154.88 L378.96 155.76 L379.42 156.64 L379.90 157.50 L380.39 158.36 L380.89 159.20 L381.41 160.04 L381.94 160.86 L382.49 161.68 L383.05 162.48 L383.63 163.27 L384.22 164.05 L384.83 164.82 L385.46 165.57 L386.11 166.31 L386.77 167.04 L387.45 167.75 L388.15 168.45 L388.87 169.13 L389.61 169.80 L390.36 170.45 L391.14 171.09 L391.94 171.71 L392.75 172.31 L393.59 172.90 L394.45 173.47 L394.89 173.74" stroke="#dc563a"/>
<path d="M230.29 173.59 L231.27 173.35 L232.24 173.09 L233.21 172.83 L234.18 172.56 L235.14 172.29 L236.10 172.01 L237.06 171.72 L238.02 171.43 L238.98 171.13 L239.93 170.83 L240.88 170.52 L241.82 170.21 L242.77 169.89 L243.71 169.56 L244.65 169.23 L245.59 168.90 L246.53 168.56 L247.46 168.21 L248.39 167.86 L249.32 167.50 L250.25 167.14 L251.17 166.77 L252.10 166.40 L253.02 166.02 L253.94 165.64 L254.86 165.26 L255.77 164.87 L256.69 164.47 L257.60 164.07 L258.51 163.67 L259.42 163.26 L260.33 162.85 L261.23 162.43 L262.13 162.01 L263.04 161.59 L263.94 161.16 L264.84 160.72 L265.73 160.29 L266.63 159.85 L267.53 159.40 L268.42 158.95 L269.31 158.50 L270.20 158.05 L271.09 157.59 L271.98 157.12 L272.87 156.66 L273.75 156.19 L274.64 155.72 L275.52 155.24 L276.40 154.76 L277.28 154.28 L278.16 153.79 L279.04 153.30 L279.91 152.80 L280.78 152.30 L281.64 151.79 L282.51 151.28 L283.36 150.76 L284.21 150.23 L285.06 149.70 L285.90 149.16 L286.74 148.61 L287.56 148.05 L288.39 147.48 L289.20 146.91 L290.01 146.32 L290.81 145.73 L291.60 145.12 L292.38 144.51 L293.15 143.88 L293.91 143.25 L294.67 142.60 L295.41 141.94 L296.14 141.27 L296.87 140.59 L297.58 139.89 L298.28 139.19 L298.98 138.48 L299.66 137.75 L300.34 137.02 L301.00 136.28 L301.66 135.53 L302.30 134.77 L302.94 134.00 L303.57 133.22 L304.19 132.44 L304.80 131.65 L305.41 130.85 L306.00 130.05 L306.59 129.24 L307.17 128.42 L307.74 127.60 L308.30 126.77 L308.86 125.94 L309.40 125.11 L309.94 124.27 L310.48 123.42 L311.00 122.57 L311.52 121.72 L312.03 120.86 L312.53 120.00 L313.03 119.14 L313.52 118.27 L314.01 117.39 L314.49 116.52 L314.96 115.64 L315.43 114.76 L315.89 113.88 L316.35 112.99 L316.80 112.10 L317.25 111.20 L317.69 110.31 L318.13 109.41 L318.56 108.51 L318.99 107.61 L319.42 106.70 L319.84 105.80 L320.26 104.89 L320.67 103.98 L321.08 103.07 L321.49 102.15 L321.89 101.24 L322.29 100.32 L322.69 99.40 L323.08 98.48 L323.47 97.56 L323.85 96.63 L324.23 95.71 L324.60 94.78 L324.97 93.85 L325.34 92.92 L325.70 91.98 L326.05 91.05 L326.40 90.11 L326.74 89.17 L327.08 88.24 L327.41 87.29 L327.74 86.35 L328.06 85.40 L328.37 84.46 L328.68 83.51 L328.98 82.56 L329.27 81.61 L329.56 80.65 L329.84 79.70 L330.12 78.74 L330.39 77.78 L330.65 76.82 L330.91 75.86 L331.16 74.90 L331.41 73.93 L331.66 72.97 L331.90 72.00 L332.14 71.03 L332.37 70.07 L332.60 69.10 L332.83 68.13 L333.05 67.15 L333.28 66.18 L333.50 65.21 L333.71 64.24 L333.93 63.26 L334.15 62.29 L334.36 61.31 L334.57 60.34 L334.78 59.36 L335.00 58.38 L335.21 57.41 L335.42 56.43 L335.63 55.45 L335.85 54.48 L336.06 53.50 L336.28 52.52 L336.49 51.55 L336.71 50.57 L336.93 49.60 L337.16 48.62 L337.38 47.64 L337.61 46.67 L337.84 45.69 L338.08 44.72 L338.32 43.75 L338.56 42.77 L338.80 41.80 L339.06 40.83 L339.31 39.86 L339.57 38.89 L339.84 37.92 L340.11 36.96 L340.39 35.99 L340.67 35.03 L340.96 34.06 L341.25 33.10 L341.55 32.15 L341.86 31.19 L342.17 30.24 L342.48 29.30 L342.80 28.36 L343.12 27.42 L343.45 26.50 L343.79 25.57 L344.13 24.66 L344.48 23.75 L344.86 22.84 L345.27 21.94 L345.73 21.03 L346.24 20.13 L346.82 19.24 L347.49 18.46 L348.27 17.89 L349.17 17.64 L350.08 17.79 L350.90 18.30 L351.56 18.99 L352.08 19.81 L352.48 20.73 L352.79 21.71 L352.92 22.22 L353.03 22.73 L353.15 23.24 L353.25 23.75 L353.36 24.25 L353.58 25.24 L353.79 26.21 L354.00 27.16 L354.21 28.11 L354.41 29.05 L354.60 30.00 L354.79 30.96 L354.97 31.92 L355.15 32.90 L355.31 33.87 L355.48 34.85 L355.64 35.84 L355.80 36.83 L355.96 37.82 L356.11 38.81 L356.27 39.80 L356.42 40.80 L356.58 41.79 L356.73 42.79 L356.89 43.78 L357.04 44.78 L357.20 45.77 L357.36 46.76 L357.52 47.75 L357.68 48.75 L357.84 49.74 L358.00 50.73 L358.17 51.72 L358.33 52.71 L358.49 53.70 L358.65 54.69 L358.82 55.68 L358.98 56.66 L359.15 57.65 L359.31 58.64 L359.48 59.63 L359.64 60.62 L359.81 61.60 L359.97 62.59 L360.14 63.58 L360.30 64.56 L360.47 65.55 L360.63 66.54 L360.80 67.52 L360.96 68.51 L361.13 69.49 L361.29 70.48 L361.45 71.46 L361.62 72.45 L361.78 73.43 L361.94 74.42 L362.10 75.40 L362.27 76.39 L362.43 77.37 L362.59 78.36 L362.75 79.34 L362.91 80.33 L363.06 81.31 L363.22 82.30 L363.38 83.28 L363.53 84.26 L363.69 85.25 L363.84 86.23 L364.00 87.22 L364.15 88.20 L364.30 89.19 L364.45 90.17 L364.60 91.16 L364.75 92.14 L364.90 93.13 L365.05 94.11 L365.19 95.09 L365.34 96.08 L365.49 97.06 L365.64 98.05 L365.79 99.03 L365.94 100.02 L366.09 101.00 L366.24 101.99 L366.39 102.97 L366.54 103.95 L366.69 104.94 L366.85 105.92 L367.00 106.91 L367.16 107.89 L367.32 108.87 L367.48 109.86 L367.64 110.84 L367.81 111.82 L367.97 112.81 L368.14 113.79 L368.31 114.77 L368.49 115.75 L368.66 116.74 L368.84 117.72 L369.02 118.70 L369.21 119.68 L369.39 120.66 L369.58 121.64 L369.78 122.62 L369.97 123.61 L370.17 124.59 L370.38 125.57 L370.59 126.55 L370.80 127.52 L371.02 128.50 L371.24 129.48 L371.46 130.46 L371.69 131.44 L371.92 132.42 L372.16 133.39 L372.41 134.37 L372.65 135.35 L372.91 136.32 L373.17 137.30 L373.43 138.27 L373.70 139.24 L373.98 140.21 L374.27 141.18 L374.56 142.14 L374.86 143.10 L375.17 144.06 L375.48 145.02 L375.81 145.97 L376.14 146.91 L376.49 147.85 L376.84 148.79 L377.21 149.72 L377.58 150.64 L377.96 151.56 L378.36 152.47 L378.77 153.38 L379.19 154.28 L379.62 155.17 L380.07 156.05 L380.52 156.93 L380.99 157.79 L381.48 158.65 L381.98 159.50 L382.49 160.34 L383.02 161.17 L383.56 161.99 L384.12 162.79 L384.69 163.59 L385.28 164.38 L385.89 165.15 L386.51 165.92 L387.15 166.67 L387.81 167.41 L388.49 168.13 L389.18 168.84 L389.89 169.54 L390.62 170.23 L391.37 170.90 L392.14 171.55 L392.93 172.20 L393.74 172.82 L394.57 173.43 L395.00 173.73" stroke="#f0a244"/>
<path d="M230.29 174.28 L231.28 174.11 L232.27 173.93 L233.26 173.73 L234.25 173.54 L235.23 173.33 L236.21 173.11 L237.18 172.89 L238.16 172.66 L239.13 172.42 L240.10 172.18 L241.07 171.93 L242.04 171.67 L243.00 171.40 L243.96 171.12 L244.92 170.84 L245.87 170.55 L246.83 170.26 L247.78 169.96 L248.73 169.65 L249.67 169.33 L250.62 169.01 L251.56 168.68 L252.50 168.35 L253.44 168.01 L254.37 167.66 L255.30 167.31 L256.23 166.95 L257.16 166.58 L258.09 166.21 L259.01 165.83 L259.93 165.45 L260.85 165.06 L261.77 164.66 L262.68 164.26 L263.60 163.86 L264.51 163.45 L265.41 163.03 L266.32 162.61 L267.22 162.18 L268.12 161.75 L269.02 161.31 L269.92 160.87 L270.82 160.42 L271.71 159.97 L272.60 159.51 L273.49 159.05 L274.38 158.59 L275.26 158.12 L276.14 157.64 L277.02 157.17 L277.90 156.68 L278.78 156.19 L279.65 155.70 L280.52 155.20 L281.38 154.70 L282.25 154.19 L283.11 153.68 L283.96 153.16 L284.82 152.63 L285.66 152.10 L286.51 151.56 L287.35 151.01 L288.18 150.46 L289.01 149.90 L289.84 149.34 L290.66 148.77 L291.47 148.19 L292.28 147.60 L293.09 147.01 L293.89 146.41 L294.68 145.80 L295.47 145.18 L296.25 144.55 L297.02 143.92 L297.79 143.28 L298.55 142.63 L299.30 141.97 L300.05 141.31 L300.79 140.64 L301.52 139.96 L302.25 139.27 L302.96 138.57 L303.67 137.87 L304.37 137.16 L305.06 136.44 L305.75 135.71 L306.42 134.97 L307.08 134.23 L307.74 133.48 L308.39 132.72 L309.02 131.95 L309.65 131.18 L310.26 130.39 L310.87 129.60 L311.47 128.81 L312.05 128.00 L312.63 127.19 L313.19 126.37 L313.75 125.54 L314.29 124.70 L314.83 123.86 L315.35 123.02 L315.87 122.16 L316.38 121.30 L316.88 120.44 L317.38 119.57 L317.86 118.70 L318.34 117.82 L318.81 116.93 L319.28 116.05 L319.74 115.15 L320.19 114.26 L320.64 113.36 L321.08 112.46 L321.52 111.56 L321.95 110.65 L322.38 109.74 L322.81 108.83 L323.23 107.92 L323.65 107.01 L324.06 106.09 L324.48 105.17 L324.88 104.26 L325.29 103.34 L325.69 102.42 L326.08 101.50 L326.48 100.58 L326.86 99.65 L327.25 98.73 L327.63 97.80 L328.00 96.87 L328.37 95.94 L328.73 95.01 L329.09 94.07 L329.44 93.14 L329.79 92.20 L330.13 91.26 L330.46 90.32 L330.79 89.38 L331.11 88.44 L331.42 87.49 L331.73 86.54 L332.03 85.59 L332.32 84.64 L332.61 83.68 L332.88 82.73 L333.16 81.77 L333.42 80.81 L333.68 79.84 L333.93 78.88 L334.18 77.91 L334.42 76.95 L334.66 75.98 L334.89 75.01 L335.12 74.04 L335.34 73.07 L335.56 72.09 L335.78 71.12 L335.99 70.14 L336.20 69.16 L336.41 68.19 L336.62 67.21 L336.82 66.23 L337.02 65.25 L337.22 64.27 L337.42 63.29 L337.61 62.31 L337.81 61.32 L338.01 60.34 L338.20 59.36 L338.40 58.38 L338.59 57.39 L338.79 56.41 L338.99 55.43 L339.19 54.45 L339.39 53.47 L339.59 52.48 L339.80 51.50 L340.01 50.52 L340.22 49.54 L340.43 48.56 L340.65 47.58 L340.87 46.60 L341.09 45.63 L341.32 44.65 L341.55 43.67 L341.79 42.70 L342.03 41.73 L342.28 40.75 L342.53 39.78 L342.79 38.81 L343.05 37.85 L343.32 36.88 L343.60 35.92 L343.89 34.96 L344.18 34.00 L344.48 33.05 L344.79 32.10 L345.10 31.16 L345.42 30.22 L345.76 29.29 L346.10 28.36 L346.44 27.44 L346.80 26.52 L347.15 25.59 L347.50 24.66 L347.84 23.72 L348.16 22.75 L348.48 21.77 L348.85 20.81 L349.34 19.91 L349.99 19.14 L350.76 18.61 L351.59 18.46 L352.41 18.78 L353.16 19.46 L353.77 20.32 L354.20 21.25 L354.52 22.21 L354.79 23.18 L355.06 24.15 L355.33 25.11 L355.61 26.07 L355.89 27.02 L356.16 27.98 L356.41 28.94 L356.65 29.90 L356.87 30.87 L357.08 31.84 L357.27 32.82 L357.46 33.80 L357.63 34.78 L357.80 35.77 L357.96 36.76 L358.11 37.74 L358.26 38.73 L358.41 39.72 L358.56 40.72 L358.71 41.71 L358.86 42.70 L359.01 43.69 L359.16 44.68 L359.31 45.67 L359.46 46.66 L359.61 47.65 L359.76 48.64 L359.92 49.63 L360.07 50.62 L360.22 51.61 L360.38 52.60 L360.53 53.59 L360.69 54.58 L360.84 55.56 L361.00 56.55 L361.15 57.54 L361.31 58.53 L361.46 59.52 L361.62 60.51 L361.77 61.50 L361.93 62.49 L362.08 63.48 L362.24 64.47 L362.40 65.46 L362.55 66.44 L362.71 67.43 L362.86 68.42 L363.02 69.41 L363.17 70.40 L363.32 71.39 L363.48 72.38 L363.63 73.36 L363.79 74.35 L363.94 75.34 L364.09 76.33 L364.24 77.32 L364.40 78.31 L364.55 79.29 L364.70 80.28 L364.85 81.27 L365.00 82.26 L365.15 83.25 L365.29 84.24 L365.44 85.22 L365.59 86.21 L365.73 87.20 L365.88 88.19 L366.02 89.18 L366.17 90.16 L366.31 91.15 L366.45 92.14 L366.60 93.13 L366.74 94.12 L366.88 95.10 L367.03 96.09 L367.17 97.08 L367.31 98.07 L367.46 99.05 L367.60 100.04 L367.75 101.03 L367.90 102.02 L368.04 103.00 L368.19 103.99 L368.34 104.98 L368.49 105.96 L368.65 106.95 L368.80 107.93 L368.96 108.92 L369.11 109.91 L369.27 110.89 L369.44 111.88 L369.60 112.86 L369.76 113.85 L369.93 114.83 L370.10 115.82 L370.28 116.80 L370.45 117.78 L370.63 118.77 L370.81 119.75 L371.00 120.73 L371.18 121.71 L371.37 122.70 L371.57 123.68 L371.76 124.66 L371.96 125.64 L372.17 126.62 L372.38 127.60 L372.59 128.58 L372.80 129.56 L373.02 130.54 L373.25 131.52 L373.48 132.50 L373.71 133.48 L373.95 134.46 L374.19 135.43 L374.44 136.41 L374.69 137.39 L374.95 138.36 L375.22 139.33 L375.49 140.30 L375.77 141.27 L376.05 142.23 L376.34 143.19 L376.65 144.15 L376.96 145.11 L377.27 146.06 L377.60 147.00 L377.94 147.95 L378.28 148.88 L378.64 149.82 L379.00 150.74 L379.38 151.67 L379.77 152.58 L380.17 153.49 L380.58 154.40 L381.00 155.29 L381.44 156.18 L381.88 157.06 L382.34 157.94 L382.82 158.81 L383.31 159.66 L383.81 160.51 L384.32 161.36 L384.85 162.19 L385.40 163.01 L385.96 163.82 L386.54 164.63 L387.13 165.42 L387.74 166.20 L388.36 166.98 L389.01 167.74 L389.67 168.49 L390.35 169.22 L391.04 169.95 L391.76 170.66 L392.49 171.37 L393.24 172.05 L394.01 172.73 L394.81 173.39 L395.21 173.72" stroke="#8a34de"/>
</g>
<path d="M230.30 174.45 v-4.0 M230.30 8.25 v4.0 M262.40 174.45 v-4.0 M262.40 8.25 v4.0 M294.49 174.45 v-4.0 M294.49 8.25 v4.0 M326.59 174.45 v-4.0 M326.59 8.25 v4.0 M358.68 174.45 v-4.0 M358.68 8.25 v4.0 M390.78 174.45 v-4.0 M390.78 8.25 v4.0 M230.30 136.00 h4.2 M395.75 136.00 h-4.2 M230.30 88.60 h4.2 M395.75 88.60 h-4.2 M230.30 41.20 h4.2 M395.75 41.20 h-4.2 M230.30 159.70 h2.4 M395.75 159.70 h-2.4 M230.30 112.30 h2.4 M395.75 112.30 h-2.4 M230.30 64.90 h2.4 M395.75 64.90 h-2.4 M230.30 17.50 h2.4 M395.75 17.50 h-2.4" stroke="#202020" stroke-width="0.9" fill="none"/>
<rect x="230.30" y="8.25" width="165.45" height="166.20" fill="none" stroke="#202020" stroke-width="1.2"/>
<g clip-path="url(#cc)" fill="none" stroke-width="1.7" stroke-linejoin="round">
<path d="M32.51 348.29 L33.40 347.88 L34.28 347.46 L35.17 347.03 L36.05 346.60 L36.94 346.16 L37.82 345.71 L38.70 345.25 L39.58 344.79 L40.46 344.32 L41.34 343.85 L42.22 343.37 L43.09 342.88 L43.96 342.38 L44.83 341.88 L45.69 341.36 L46.55 340.85 L47.41 340.32 L48.27 339.79 L49.12 339.25 L49.96 338.70 L50.81 338.14 L51.64 337.58 L52.47 337.01 L53.30 336.43 L54.12 335.85 L54.93 335.25 L55.74 334.65 L56.54 334.04 L57.34 333.42 L58.13 332.80 L58.91 332.17 L59.68 331.53 L60.45 330.88 L61.20 330.22 L61.95 329.56 L62.69 328.88 L63.43 328.20 L64.15 327.51 L64.86 326.82 L65.57 326.11 L66.26 325.40 L66.94 324.68 L67.62 323.95 L68.28 323.21 L68.93 322.46 L69.57 321.70 L70.20 320.94 L70.82 320.17 L71.43 319.38 L72.03 318.59 L72.61 317.80 L73.19 316.99 L73.75 316.18 L74.31 315.36 L74.85 314.54 L75.39 313.70 L75.92 312.87 L76.44 312.02 L76.95 311.17 L77.46 310.31 L77.95 309.45 L78.44 308.58 L78.92 307.71 L79.40 306.83 L79.87 305.95 L80.33 305.07 L80.78 304.18 L81.23 303.28 L81.68 302.39 L82.12 301.49 L82.55 300.58 L82.98 299.68 L83.41 298.77 L83.83 297.86 L84.25 296.94 L84.67 296.03 L85.08 295.11 L85.49 294.19 L85.89 293.27 L86.30 292.35 L86.70 291.42 L87.10 290.50 L87.50 289.58 L87.90 288.66 L88.29 287.73 L88.69 286.81 L89.09 285.89 L89.48 284.97 L89.88 284.05 L90.28 283.13 L90.68 282.21 L91.08 281.29 L91.48 280.38 L91.88 279.47 L92.28 278.56 L92.68 277.65 L93.08 276.74 L93.49 275.83 L93.89 274.92 L94.29 274.01 L94.69 273.10 L95.09 272.20 L95.48 271.29 L95.88 270.38 L96.27 269.47 L96.66 268.56 L97.05 267.64 L97.44 266.73 L97.82 265.81 L98.20 264.90 L98.57 263.98 L98.94 263.05 L99.31 262.13 L99.67 261.20 L100.03 260.27 L100.38 259.34 L100.73 258.40 L101.08 257.46 L101.42 256.52 L101.76 255.58 L102.10 254.64 L102.44 253.69 L102.77 252.75 L103.11 251.80 L103.44 250.85 L103.77 249.91 L104.11 248.96 L104.45 248.01 L104.78 247.07 L105.12 246.12 L105.46 245.18 L105.81 244.24 L106.15 243.30 L106.50 242.36 L106.86 241.42 L107.22 240.49 L107.58 239.56 L107.95 238.63 L108.33 237.71 L108.70 236.79 L109.08 235.86 L109.47 234.95 L109.86 234.03 L110.25 233.11 L110.64 232.20 L111.03 231.28 L111.42 230.37 L111.82 229.45 L112.21 228.54 L112.60 227.62 L113.00 226.71 L113.39 225.79 L113.78 224.87 L114.16 223.95 L114.55 223.03 L114.93 222.11 L115.30 221.18 L115.68 220.26 L116.05 219.33 L116.41 218.39 L116.77 217.46 L117.13 216.52 L117.49 215.58 L117.85 214.64 L118.21 213.71 L118.58 212.77 L118.95 211.84 L119.33 210.92 L119.72 209.99 L120.12 209.08 L120.53 208.17 L120.95 207.27 L121.39 206.38 L121.85 205.50 L122.33 204.62 L122.82 203.76 L123.34 202.91 L123.88 202.08 L124.45 201.26 L125.04 200.45 L125.66 199.66 L126.31 198.89 L126.99 198.15 L127.71 197.45 L128.48 196.83 L129.31 196.29 L130.20 195.87 L131.16 195.58 L132.16 195.44 L133.16 195.50 L134.11 195.77 L134.98 196.23 L135.78 196.84 L136.51 197.52 L137.19 198.25 L137.81 199.02 L138.38 199.82 L138.91 200.66 L139.40 201.52 L139.86 202.41 L140.28 203.32 L140.68 204.24 L141.06 205.18 L141.42 206.12 L141.77 207.07 L142.12 208.03 L142.45 208.98 L142.79 209.93 L143.12 210.88 L143.44 211.83 L143.76 212.78 L144.08 213.74 L144.39 214.69 L144.70 215.64 L145.01 216.59 L145.31 217.54 L145.61 218.49 L145.90 219.44 L146.19 220.39 L146.48 221.34 L146.77 222.29 L147.05 223.24 L147.33 224.19 L147.61 225.15 L147.89 226.10 L148.16 227.05 L148.43 228.01 L148.71 228.96 L148.97 229.92 L149.24 230.88 L149.51 231.83 L149.77 232.79 L150.03 233.75 L150.29 234.71 L150.55 235.67 L150.81 236.63 L151.06 237.60 L151.32 238.56 L151.57 239.52 L151.82 240.49 L152.07 241.45 L152.32 242.42 L152.57 243.38 L152.82 244.35 L153.07 245.32 L153.31 246.28 L153.56 247.25 L153.80 248.22 L154.05 249.19 L154.29 250.15 L154.53 251.12 L154.77 252.09 L155.01 253.06 L155.25 254.03 L155.49 255.00 L155.73 255.97 L155.97 256.94 L156.21 257.92 L156.45 258.89 L156.69 259.86 L156.93 260.83 L157.17 261.80 L157.41 262.77 L157.64 263.74 L157.88 264.72 L158.12 265.69 L158.36 266.66 L158.60 267.63 L158.84 268.60 L159.08 269.57 L159.32 270.55 L159.56 271.52 L159.80 272.49 L160.04 273.46 L160.28 274.43 L160.53 275.40 L160.77 276.37 L161.02 277.34 L161.26 278.31 L161.51 279.28 L161.76 280.25 L162.01 281.22 L162.26 282.19 L162.51 283.15 L162.76 284.12 L163.02 285.09 L163.28 286.05 L163.53 287.02 L163.80 287.98 L164.06 288.95 L164.32 289.91 L164.59 290.87 L164.86 291.83 L165.13 292.80 L165.41 293.75 L165.69 294.71 L165.97 295.67 L166.25 296.63 L166.54 297.58 L166.83 298.54 L167.12 299.49 L167.41 300.45 L167.71 301.40 L168.01 302.35 L168.32 303.30 L168.63 304.24 L168.94 305.19 L169.26 306.14 L169.58 307.08 L169.90 308.02 L170.23 308.96 L170.56 309.90 L170.90 310.84 L171.24 311.78 L171.59 312.71 L171.94 313.65 L172.29 314.58 L172.65 315.51 L173.01 316.44 L173.38 317.36 L173.76 318.29 L174.14 319.21 L174.53 320.13 L174.92 321.04 L175.33 321.95 L175.74 322.86 L176.16 323.76 L176.58 324.66 L177.02 325.56 L177.47 326.45 L177.92 327.33 L178.39 328.21 L178.87 329.08 L179.36 329.95 L179.86 330.81 L180.38 331.66 L180.90 332.51 L181.44 333.34 L182.00 334.17 L182.57 334.99 L183.15 335.81 L183.75 336.61 L184.36 337.41 L184.98 338.20 L185.62 338.98 L186.27 339.75 L186.92 340.51 L187.59 341.27 L188.27 342.02 L188.95 342.76 L189.65 343.49 L190.35 344.21 L191.05 344.93 L191.76 345.64 L192.48 346.34 L193.20 347.04 L193.92 347.73 L194.65 348.41 L195.37 349.08 L196.10 349.75 L196.83 350.41 L197.56 351.07 L198.28 351.71 L198.28 351.71" stroke="#0f76c2"/>
<path d="M32.51 350.39 L33.42 350.03 L34.33 349.67 L35.24 349.30 L36.15 348.92 L37.06 348.54 L37.97 348.16 L38.89 347.77 L39.80 347.37 L40.72 346.97 L41.63 346.56 L42.54 346.14 L43.46 345.72 L44.37 345.30 L45.28 344.86 L46.18 344.42 L47.09 343.98 L47.99 343.52 L48.89 343.06 L49.79 342.59 L50.68 342.12 L51.57 341.64 L52.45 341.15 L53.33 340.65 L54.21 340.14 L55.08 339.63 L55.95 339.11 L56.80 338.58 L57.66 338.04 L58.50 337.49 L59.34 336.94 L60.17 336.38 L61.00 335.80 L61.82 335.22 L62.62 334.63 L63.42 334.03 L64.22 333.42 L65.00 332.80 L65.77 332.17 L66.53 331.53 L67.29 330.89 L68.03 330.23 L68.76 329.56 L69.48 328.88 L70.19 328.19 L70.89 327.49 L71.57 326.78 L72.25 326.06 L72.91 325.33 L73.56 324.59 L74.20 323.83 L74.83 323.07 L75.45 322.31 L76.06 321.53 L76.66 320.74 L77.25 319.95 L77.83 319.15 L78.41 318.34 L78.97 317.52 L79.53 316.69 L80.07 315.86 L80.62 315.03 L81.15 314.18 L81.68 313.33 L82.20 312.48 L82.71 311.62 L83.22 310.76 L83.72 309.89 L84.22 309.01 L84.71 308.14 L85.19 307.25 L85.67 306.37 L86.15 305.48 L86.63 304.59 L87.10 303.70 L87.56 302.80 L88.03 301.90 L88.49 301.00 L88.94 300.10 L89.40 299.20 L89.85 298.30 L90.31 297.39 L90.76 296.49 L91.21 295.58 L91.66 294.68 L92.11 293.78 L92.56 292.88 L93.01 291.97 L93.45 291.07 L93.91 290.18 L94.36 289.28 L94.81 288.39 L95.26 287.49 L95.72 286.60 L96.17 285.72 L96.63 284.83 L97.08 283.94 L97.54 283.05 L97.99 282.17 L98.44 281.28 L98.89 280.40 L99.34 279.51 L99.78 278.63 L100.22 277.74 L100.66 276.85 L101.10 275.96 L101.53 275.07 L101.96 274.17 L102.38 273.28 L102.80 272.38 L103.22 271.48 L103.63 270.57 L104.03 269.67 L104.43 268.75 L104.82 267.84 L105.20 266.92 L105.58 266.00 L105.96 265.08 L106.33 264.15 L106.69 263.22 L107.05 262.29 L107.41 261.35 L107.76 260.42 L108.11 259.48 L108.45 258.53 L108.79 257.59 L109.13 256.65 L109.46 255.70 L109.79 254.75 L110.12 253.80 L110.45 252.85 L110.78 251.90 L111.10 250.95 L111.42 250.00 L111.74 249.05 L112.06 248.09 L112.38 247.14 L112.70 246.19 L113.02 245.23 L113.34 244.28 L113.65 243.33 L113.97 242.38 L114.29 241.43 L114.61 240.47 L114.93 239.52 L115.25 238.57 L115.58 237.62 L115.90 236.68 L116.23 235.73 L116.56 234.78 L116.89 233.84 L117.22 232.89 L117.56 231.95 L117.90 231.01 L118.24 230.07 L118.59 229.14 L118.94 228.20 L119.29 227.27 L119.65 226.33 L120.01 225.41 L120.38 224.48 L120.75 223.55 L121.13 222.63 L121.51 221.71 L121.90 220.79 L122.29 219.88 L122.69 218.96 L123.09 218.06 L123.50 217.15 L123.92 216.25 L124.34 215.35 L124.77 214.45 L125.21 213.55 L125.66 212.66 L126.11 211.78 L126.57 210.89 L127.04 210.02 L127.52 209.14 L128.01 208.27 L128.50 207.40 L129.01 206.54 L129.55 205.70 L130.12 204.87 L130.73 204.08 L131.40 203.31 L132.12 202.59 L132.91 201.93 L133.75 201.36 L134.63 200.90 L135.54 200.59 L136.49 200.46 L137.45 200.52 L138.41 200.77 L139.33 201.18 L140.18 201.73 L140.95 202.39 L141.66 203.13 L142.29 203.91 L142.86 204.73 L143.39 205.58 L143.88 206.45 L144.34 207.33 L144.79 208.22 L145.23 209.11 L145.66 210.01 L146.07 210.92 L146.47 211.83 L146.85 212.75 L147.23 213.67 L147.60 214.60 L147.95 215.53 L148.30 216.47 L148.63 217.41 L148.96 218.35 L149.28 219.30 L149.59 220.25 L149.89 221.21 L150.19 222.17 L150.48 223.13 L150.76 224.09 L151.04 225.05 L151.32 226.02 L151.59 226.98 L151.85 227.95 L152.11 228.92 L152.37 229.88 L152.63 230.85 L152.88 231.82 L153.13 232.79 L153.38 233.76 L153.63 234.73 L153.87 235.70 L154.11 236.67 L154.35 237.64 L154.58 238.61 L154.81 239.59 L155.04 240.56 L155.27 241.53 L155.50 242.50 L155.73 243.48 L155.95 244.45 L156.17 245.42 L156.39 246.40 L156.61 247.37 L156.83 248.34 L157.05 249.32 L157.27 250.29 L157.48 251.27 L157.70 252.24 L157.91 253.22 L158.12 254.19 L158.34 255.17 L158.55 256.14 L158.76 257.12 L158.98 258.09 L159.19 259.07 L159.40 260.05 L159.62 261.02 L159.83 262.00 L160.04 262.97 L160.26 263.95 L160.47 264.92 L160.69 265.90 L160.91 266.88 L161.12 267.85 L161.34 268.83 L161.56 269.80 L161.78 270.78 L162.01 271.75 L162.23 272.73 L162.46 273.70 L162.68 274.68 L162.91 275.65 L163.14 276.62 L163.38 277.60 L163.61 278.57 L163.85 279.54 L164.09 280.52 L164.33 281.49 L164.57 282.46 L164.81 283.43 L165.06 284.40 L165.31 285.37 L165.56 286.34 L165.81 287.31 L166.07 288.28 L166.33 289.25 L166.59 290.21 L166.85 291.18 L167.12 292.15 L167.39 293.11 L167.66 294.07 L167.94 295.04 L168.21 296.00 L168.49 296.96 L168.78 297.92 L169.06 298.88 L169.35 299.84 L169.64 300.79 L169.94 301.75 L170.24 302.70 L170.54 303.66 L170.85 304.61 L171.16 305.56 L171.47 306.51 L171.78 307.46 L172.10 308.40 L172.43 309.35 L172.75 310.29 L173.08 311.24 L173.42 312.18 L173.75 313.12 L174.10 314.05 L174.44 314.99 L174.79 315.93 L175.15 316.86 L175.51 317.79 L175.87 318.72 L176.24 319.64 L176.62 320.56 L177.01 321.48 L177.40 322.40 L177.80 323.31 L178.21 324.21 L178.64 325.11 L179.07 326.01 L179.51 326.90 L179.97 327.78 L180.43 328.66 L180.91 329.53 L181.40 330.39 L181.91 331.24 L182.43 332.09 L182.97 332.93 L183.52 333.76 L184.09 334.59 L184.67 335.40 L185.28 336.20 L185.89 337.00 L186.52 337.79 L187.17 338.57 L187.82 339.34 L188.48 340.11 L189.15 340.87 L189.83 341.62 L190.51 342.37 L191.20 343.12 L191.89 343.86 L192.58 344.60 L193.27 345.34 L193.95 346.07 L194.64 346.80 L195.32 347.53 L195.99 348.26 L196.66 348.99 L197.32 349.71 L197.96 350.44 L198.28 350.81" stroke="#dc563a"/>
<path d="M32.52 352.11 L33.43 351.76 L34.34 351.42 L35.25 351.07 L36.16 350.71 L37.08 350.35 L38.00 349.99 L38.92 349.62 L39.84 349.25 L40.76 348.87 L41.68 348.49 L42.60 348.10 L43.53 347.71 L44.45 347.31 L45.37 346.91 L46.29 346.50 L47.21 346.09 L48.13 345.67 L49.04 345.24 L49.96 344.81 L50.87 344.37 L51.78 343.92 L52.68 343.47 L53.58 343.01 L54.48 342.54 L55.38 342.06 L56.27 341.58 L57.15 341.09 L58.03 340.60 L58.90 340.09 L59.77 339.58 L60.63 339.06 L61.49 338.53 L62.34 337.99 L63.18 337.44 L64.02 336.88 L64.84 336.32 L65.66 335.74 L66.47 335.16 L67.28 334.57 L68.07 333.96 L68.86 333.35 L69.63 332.73 L70.39 332.10 L71.15 331.45 L71.89 330.80 L72.63 330.13 L73.35 329.46 L74.06 328.78 L74.76 328.08 L75.46 327.38 L76.14 326.66 L76.81 325.94 L77.48 325.21 L78.13 324.47 L78.78 323.72 L79.41 322.97 L80.04 322.20 L80.66 321.43 L81.28 320.65 L81.88 319.86 L82.48 319.07 L83.07 318.27 L83.65 317.46 L84.22 316.65 L84.79 315.83 L85.35 315.01 L85.91 314.18 L86.46 313.34 L87.00 312.50 L87.54 311.66 L88.07 310.81 L88.60 309.95 L89.12 309.10 L89.64 308.23 L90.15 307.37 L90.65 306.50 L91.16 305.63 L91.66 304.76 L92.15 303.88 L92.64 303.00 L93.13 302.12 L93.61 301.24 L94.09 300.35 L94.57 299.46 L95.05 298.58 L95.52 297.69 L95.99 296.80 L96.46 295.91 L96.93 295.02 L97.39 294.13 L97.86 293.24 L98.32 292.36 L98.78 291.47 L99.24 290.58 L99.69 289.68 L100.15 288.79 L100.60 287.90 L101.05 287.01 L101.49 286.12 L101.94 285.23 L102.38 284.33 L102.82 283.44 L103.26 282.54 L103.70 281.65 L104.13 280.75 L104.56 279.85 L104.99 278.96 L105.42 278.06 L105.84 277.16 L106.26 276.26 L106.68 275.35 L107.09 274.45 L107.51 273.55 L107.92 272.64 L108.32 271.74 L108.73 270.83 L109.13 269.92 L109.53 269.01 L109.92 268.10 L110.31 267.18 L110.70 266.27 L111.09 265.35 L111.47 264.43 L111.85 263.51 L112.23 262.59 L112.60 261.67 L112.97 260.74 L113.34 259.81 L113.70 258.89 L114.06 257.95 L114.42 257.02 L114.77 256.09 L115.12 255.15 L115.46 254.21 L115.80 253.27 L116.14 252.33 L116.48 251.38 L116.81 250.44 L117.14 249.49 L117.47 248.54 L117.80 247.59 L118.13 246.64 L118.45 245.69 L118.78 244.74 L119.10 243.79 L119.43 242.84 L119.75 241.89 L120.08 240.94 L120.40 239.99 L120.73 239.04 L121.06 238.09 L121.39 237.14 L121.72 236.19 L122.05 235.24 L122.38 234.30 L122.72 233.35 L123.06 232.41 L123.41 231.47 L123.76 230.53 L124.11 229.60 L124.46 228.66 L124.83 227.73 L125.19 226.80 L125.56 225.88 L125.94 224.96 L126.32 224.04 L126.70 223.12 L127.10 222.21 L127.50 221.30 L127.90 220.39 L128.32 219.49 L128.74 218.60 L129.16 217.70 L129.60 216.81 L130.05 215.93 L130.50 215.05 L130.96 214.18 L131.43 213.31 L131.91 212.44 L132.40 211.57 L132.89 210.70 L133.40 209.83 L133.91 208.95 L134.44 208.07 L135.00 207.22 L135.61 206.40 L136.26 205.65 L136.99 204.97 L137.80 204.40 L138.68 203.95 L139.63 203.66 L140.60 203.58 L141.58 203.70 L142.52 204.01 L143.37 204.49 L144.12 205.12 L144.80 205.85 L145.41 206.65 L145.98 207.50 L146.52 208.36 L147.04 209.23 L147.54 210.10 L148.01 210.99 L148.45 211.89 L148.88 212.79 L149.29 213.70 L149.68 214.62 L150.05 215.55 L150.41 216.48 L150.75 217.41 L151.08 218.35 L151.39 219.30 L151.69 220.25 L151.98 221.21 L152.26 222.16 L152.53 223.13 L152.79 224.09 L153.05 225.06 L153.30 226.02 L153.54 226.99 L153.79 227.96 L154.03 228.94 L154.26 229.91 L154.50 230.88 L154.73 231.85 L154.96 232.82 L155.19 233.80 L155.42 234.77 L155.65 235.74 L155.87 236.72 L156.09 237.69 L156.32 238.67 L156.54 239.64 L156.76 240.62 L156.98 241.59 L157.19 242.57 L157.41 243.54 L157.63 244.52 L157.84 245.49 L158.05 246.47 L158.27 247.44 L158.48 248.42 L158.70 249.39 L158.91 250.37 L159.12 251.35 L159.33 252.32 L159.55 253.30 L159.76 254.27 L159.97 255.25 L160.18 256.23 L160.40 257.20 L160.61 258.18 L160.82 259.15 L161.04 260.13 L161.25 261.10 L161.47 262.08 L161.69 263.05 L161.90 264.03 L162.12 265.00 L162.34 265.98 L162.56 266.95 L162.78 267.92 L163.01 268.90 L163.23 269.87 L163.46 270.84 L163.69 271.82 L163.92 272.79 L164.15 273.76 L164.38 274.73 L164.61 275.70 L164.85 276.67 L165.09 277.64 L165.33 278.61 L165.57 279.58 L165.81 280.55 L166.06 281.52 L166.30 282.49 L166.55 283.46 L166.80 284.42 L167.05 285.39 L167.30 286.36 L167.56 287.32 L167.82 288.29 L168.08 289.25 L168.34 290.22 L168.60 291.18 L168.87 292.14 L169.13 293.11 L169.40 294.07 L169.67 295.03 L169.94 295.99 L170.22 296.95 L170.50 297.91 L170.78 298.87 L171.06 299.83 L171.34 300.79 L171.63 301.75 L171.91 302.70 L172.20 303.66 L172.49 304.62 L172.79 305.57 L173.08 306.53 L173.38 307.48 L173.68 308.43 L173.99 309.39 L174.29 310.34 L174.60 311.29 L174.91 312.24 L175.22 313.19 L175.54 314.14 L175.85 315.09 L176.17 316.03 L176.50 316.98 L176.84 317.92 L177.18 318.86 L177.53 319.79 L177.89 320.72 L178.27 321.64 L178.66 322.56 L179.06 323.47 L179.48 324.38 L179.92 325.27 L180.37 326.16 L180.84 327.04 L181.33 327.91 L181.83 328.78 L182.35 329.63 L182.88 330.48 L183.42 331.33 L183.97 332.16 L184.53 332.99 L185.10 333.82 L185.68 334.63 L186.26 335.45 L186.85 336.25 L187.44 337.05 L188.05 337.85 L188.66 338.64 L189.27 339.43 L189.89 340.21 L190.51 340.99 L191.14 341.76 L191.78 342.54 L192.41 343.30 L193.06 344.07 L193.70 344.83 L194.35 345.59 L195.00 346.35 L195.66 347.10 L196.31 347.85 L196.97 348.60 L197.63 349.35 L198.30 350.10 L198.30 350.10" stroke="#f0a244"/>
<path d="M32.53 353.51 L33.44 353.19 L34.35 352.87 L35.27 352.55 L36.20 352.23 L37.12 351.90 L38.05 351.57 L38.98 351.24 L39.92 350.90 L40.85 350.56 L41.79 350.22 L42.73 349.87 L43.67 349.52 L44.61 349.16 L45.55 348.80 L46.49 348.43 L47.43 348.06 L48.37 347.68 L49.31 347.30 L50.24 346.91 L51.18 346.52 L52.11 346.12 L53.04 345.71 L53.97 345.30 L54.89 344.88 L55.81 344.45 L56.72 344.01 L57.63 343.57 L58.54 343.12 L59.44 342.66 L60.34 342.19 L61.23 341.72 L62.11 341.23 L62.99 340.74 L63.86 340.24 L64.73 339.73 L65.58 339.21 L66.43 338.68 L67.27 338.14 L68.11 337.59 L68.93 337.02 L69.74 336.45 L70.55 335.87 L71.34 335.28 L72.13 334.67 L72.90 334.06 L73.66 333.43 L74.41 332.79 L75.16 332.14 L75.89 331.48 L76.61 330.81 L77.32 330.13 L78.02 329.43 L78.71 328.73 L79.40 328.02 L80.07 327.30 L80.74 326.57 L81.39 325.83 L82.04 325.09 L82.68 324.33 L83.31 323.57 L83.94 322.80 L84.55 322.02 L85.16 321.23 L85.77 320.44 L86.36 319.64 L86.95 318.84 L87.53 318.03 L88.11 317.21 L88.68 316.39 L89.24 315.56 L89.80 314.73 L90.35 313.89 L90.90 313.05 L91.44 312.20 L91.98 311.35 L92.51 310.50 L93.04 309.64 L93.56 308.78 L94.08 307.91 L94.60 307.05 L95.11 306.18 L95.62 305.31 L96.12 304.44 L96.63 303.56 L97.12 302.68 L97.62 301.81 L98.12 300.93 L98.61 300.05 L99.10 299.17 L99.59 298.29 L100.08 297.41 L100.56 296.54 L101.04 295.66 L101.52 294.77 L102.00 293.89 L102.48 293.01 L102.95 292.13 L103.42 291.25 L103.89 290.36 L104.36 289.48 L104.82 288.60 L105.28 287.71 L105.74 286.82 L106.20 285.94 L106.65 285.05 L107.10 284.16 L107.55 283.27 L108.00 282.38 L108.44 281.49 L108.88 280.60 L109.32 279.70 L109.76 278.81 L110.19 277.91 L110.62 277.01 L111.04 276.11 L111.47 275.21 L111.88 274.31 L112.30 273.41 L112.71 272.50 L113.12 271.60 L113.53 270.69 L113.94 269.78 L114.34 268.87 L114.73 267.96 L115.13 267.04 L115.52 266.13 L115.90 265.21 L116.28 264.29 L116.66 263.37 L117.04 262.45 L117.41 261.52 L117.78 260.60 L118.14 259.67 L118.50 258.74 L118.86 257.80 L119.22 256.87 L119.57 255.93 L119.92 255.00 L120.26 254.06 L120.61 253.12 L120.95 252.18 L121.29 251.24 L121.63 250.29 L121.97 249.35 L122.31 248.41 L122.64 247.46 L122.98 246.52 L123.31 245.57 L123.65 244.63 L123.98 243.68 L124.32 242.74 L124.65 241.79 L124.99 240.85 L125.33 239.90 L125.67 238.96 L126.01 238.02 L126.35 237.07 L126.69 236.13 L127.03 235.19 L127.38 234.25 L127.73 233.31 L128.08 232.38 L128.43 231.44 L128.79 230.51 L129.15 229.58 L129.52 228.64 L129.88 227.72 L130.26 226.79 L130.63 225.86 L131.01 224.94 L131.40 224.02 L131.78 223.10 L132.18 222.19 L132.58 221.27 L132.98 220.36 L133.39 219.46 L133.81 218.55 L134.23 217.65 L134.67 216.75 L135.11 215.86 L135.56 214.97 L136.02 214.09 L136.49 213.21 L136.97 212.33 L137.47 211.46 L137.98 210.60 L138.50 209.74 L139.05 208.89 L139.64 208.09 L140.33 207.35 L141.12 206.71 L142.00 206.22 L142.94 205.93 L143.91 205.88 L144.87 206.05 L145.77 206.43 L146.61 206.98 L147.36 207.63 L148.05 208.34 L148.67 209.11 L149.23 209.92 L149.74 210.77 L150.20 211.66 L150.63 212.58 L151.02 213.52 L151.39 214.48 L151.73 215.45 L152.06 216.43 L152.39 217.41 L152.71 218.38 L153.03 219.34 L153.35 220.29 L153.66 221.24 L153.98 222.18 L154.30 223.12 L154.61 224.06 L154.91 225.00 L155.22 225.93 L155.52 226.87 L155.81 227.81 L156.10 228.75 L156.38 229.69 L156.66 230.64 L156.93 231.59 L157.20 232.54 L157.46 233.49 L157.71 234.45 L157.97 235.40 L158.21 236.36 L158.46 237.33 L158.70 238.29 L158.93 239.26 L159.17 240.23 L159.39 241.19 L159.62 242.17 L159.84 243.14 L160.06 244.11 L160.28 245.09 L160.49 246.07 L160.71 247.04 L160.92 248.02 L161.13 249.00 L161.33 249.98 L161.54 250.96 L161.74 251.95 L161.94 252.93 L162.14 253.91 L162.34 254.90 L162.55 255.88 L162.74 256.87 L162.94 257.85 L163.14 258.84 L163.34 259.82 L163.54 260.81 L163.74 261.79 L163.94 262.77 L164.15 263.76 L164.35 264.74 L164.55 265.72 L164.76 266.71 L164.97 267.69 L165.18 268.67 L165.39 269.65 L165.60 270.63 L165.82 271.60 L166.03 272.58 L166.25 273.56 L166.48 274.53 L166.70 275.51 L166.93 276.48 L167.15 277.45 L167.39 278.42 L167.62 279.39 L167.85 280.36 L168.09 281.33 L168.33 282.30 L168.57 283.27 L168.81 284.23 L169.06 285.20 L169.30 286.17 L169.55 287.13 L169.80 288.09 L170.06 289.06 L170.31 290.02 L170.57 290.99 L170.83 291.95 L171.09 292.91 L171.35 293.87 L171.61 294.83 L171.88 295.79 L172.14 296.75 L172.41 297.71 L172.68 298.67 L172.96 299.63 L173.23 300.59 L173.51 301.55 L173.78 302.51 L174.06 303.47 L174.34 304.43 L174.63 305.39 L174.91 306.35 L175.20 307.31 L175.48 308.27 L175.77 309.22 L176.06 310.18 L176.36 311.14 L176.65 312.10 L176.94 313.06 L177.24 314.02 L177.55 314.97 L177.86 315.93 L178.17 316.88 L178.50 317.83 L178.84 318.77 L179.18 319.71 L179.54 320.64 L179.92 321.57 L180.31 322.49 L180.72 323.40 L181.14 324.30 L181.58 325.20 L182.04 326.08 L182.51 326.96 L183.00 327.83 L183.50 328.70 L184.01 329.56 L184.53 330.41 L185.07 331.25 L185.62 332.09 L186.17 332.92 L186.74 333.74 L187.31 334.56 L187.89 335.37 L188.48 336.18 L189.08 336.98 L189.68 337.78 L190.28 338.57 L190.89 339.37 L191.51 340.15 L192.12 340.94 L192.74 341.73 L193.36 342.51 L193.98 343.30 L194.60 344.08 L195.23 344.86 L195.85 345.65 L196.46 346.43 L197.08 347.22 L197.69 348.01 L198.30 348.80 L198.30 348.80" stroke="#8a34de"/>
</g>
<path d="M46.49 355.70 v-4.0 M46.49 190.30 v4.0 M74.08 355.70 v-4.0 M74.08 190.30 v4.0 M101.66 355.70 v-4.0 M101.66 190.30 v4.0 M129.24 355.70 v-4.0 M129.24 190.30 v4.0 M156.82 355.70 v-4.0 M156.82 190.30 v4.0 M184.41 355.70 v-4.0 M184.41 190.30 v4.0 M32.70 320.25 h4.2 M198.20 320.25 h-4.2 M32.70 275.30 h4.2 M198.20 275.30 h-4.2 M32.70 230.35 h4.2 M198.20 230.35 h-4.2 M32.70 342.72 h2.4 M198.20 342.72 h-2.4 M32.70 297.77 h2.4 M198.20 297.77 h-2.4 M32.70 252.82 h2.4 M198.20 252.82 h-2.4 M32.70 207.87 h2.4 M198.20 207.87 h-2.4" stroke="#202020" stroke-width="0.9" fill="none"/>
<rect x="32.70" y="190.30" width="165.50" height="165.40" fill="none" stroke="#202020" stroke-width="1.2"/>
<g clip-path="url(#cd)" fill="none" stroke-width="1.7" stroke-linejoin="round">
<path d="M230.30 350.70 L231.29 350.56 L232.27 350.42 L233.26 350.27 L234.24 350.12 L235.23 349.97 L236.22 349.81 L237.20 349.65 L238.19 349.48 L239.17 349.31 L240.15 349.14 L241.14 348.96 L242.12 348.77 L243.10 348.58 L244.08 348.39 L245.06 348.19 L246.04 347.98 L247.02 347.77 L248.00 347.56 L248.97 347.34 L249.94 347.11 L250.92 346.88 L251.89 346.64 L252.86 346.39 L253.82 346.14 L254.79 345.88 L255.75 345.62 L256.72 345.35 L257.68 345.07 L258.63 344.79 L259.59 344.49 L260.54 344.20 L261.49 343.89 L262.44 343.58 L263.39 343.26 L264.33 342.93 L265.27 342.59 L266.21 342.25 L267.14 341.90 L268.07 341.54 L269.00 341.17 L269.93 340.80 L270.85 340.41 L271.77 340.02 L272.68 339.62 L273.59 339.21 L274.50 338.79 L275.41 338.36 L276.31 337.93 L277.20 337.48 L278.10 337.02 L278.98 336.56 L279.87 336.09 L280.75 335.61 L281.62 335.11 L282.49 334.61 L283.35 334.10 L284.21 333.59 L285.06 333.06 L285.90 332.52 L286.74 331.98 L287.58 331.42 L288.40 330.86 L289.22 330.29 L290.04 329.70 L290.84 329.11 L291.64 328.51 L292.43 327.91 L293.21 327.29 L293.99 326.66 L294.76 326.02 L295.51 325.38 L296.27 324.72 L297.01 324.06 L297.74 323.39 L298.46 322.71 L299.18 322.02 L299.88 321.32 L300.58 320.61 L301.27 319.89 L301.94 319.16 L302.61 318.43 L303.26 317.68 L303.91 316.93 L304.54 316.17 L305.16 315.39 L305.77 314.61 L306.38 313.82 L306.96 313.02 L307.54 312.21 L308.11 311.40 L308.66 310.57 L309.20 309.73 L309.73 308.89 L310.25 308.03 L310.75 307.17 L311.25 306.30 L311.73 305.43 L312.20 304.54 L312.67 303.66 L313.12 302.76 L313.57 301.86 L314.00 300.95 L314.43 300.04 L314.85 299.12 L315.26 298.20 L315.67 297.28 L316.07 296.35 L316.46 295.42 L316.84 294.49 L317.22 293.55 L317.59 292.62 L317.96 291.68 L318.33 290.74 L318.69 289.80 L319.04 288.86 L319.39 287.92 L319.74 286.98 L320.09 286.04 L320.43 285.10 L320.76 284.15 L321.09 283.21 L321.42 282.27 L321.74 281.33 L322.06 280.39 L322.37 279.44 L322.68 278.50 L322.98 277.55 L323.28 276.61 L323.57 275.66 L323.86 274.71 L324.14 273.76 L324.41 272.81 L324.68 271.85 L324.94 270.90 L325.20 269.94 L325.45 268.98 L325.69 268.02 L325.93 267.05 L326.16 266.09 L326.38 265.12 L326.60 264.15 L326.81 263.17 L327.02 262.20 L327.22 261.22 L327.42 260.25 L327.62 259.27 L327.81 258.29 L328.00 257.31 L328.19 256.33 L328.38 255.34 L328.57 254.36 L328.75 253.38 L328.94 252.39 L329.13 251.41 L329.32 250.42 L329.51 249.44 L329.71 248.45 L329.91 247.47 L330.11 246.48 L330.31 245.50 L330.52 244.52 L330.73 243.53 L330.95 242.55 L331.17 241.57 L331.39 240.59 L331.62 239.61 L331.85 238.63 L332.08 237.65 L332.31 236.67 L332.54 235.70 L332.77 234.72 L333.01 233.75 L333.24 232.77 L333.47 231.80 L333.70 230.83 L333.93 229.85 L334.16 228.88 L334.39 227.91 L334.61 226.95 L334.83 225.98 L335.05 225.01 L335.27 224.04 L335.48 223.08 L335.69 222.12 L335.90 221.15 L336.11 220.19 L336.32 219.23 L336.54 218.26 L336.78 217.30 L337.02 216.33 L337.28 215.36 L337.56 214.40 L337.86 213.42 L338.18 212.45 L338.53 211.48 L338.93 210.54 L339.44 209.71 L340.11 209.08 L341.16 209.18 L341.70 210.03 L342.16 210.98 L342.54 211.93 L342.87 212.89 L343.16 213.84 L343.42 214.80 L343.66 215.77 L343.89 216.73 L344.12 217.70 L344.34 218.67 L344.56 219.64 L344.77 220.61 L344.98 221.58 L345.18 222.56 L345.38 223.54 L345.57 224.52 L345.76 225.50 L345.95 226.48 L346.13 227.46 L346.31 228.45 L346.48 229.43 L346.65 230.42 L346.82 231.40 L346.98 232.39 L347.14 233.38 L347.30 234.37 L347.46 235.36 L347.61 236.35 L347.76 237.34 L347.90 238.33 L348.05 239.32 L348.19 240.31 L348.33 241.30 L348.47 242.29 L348.61 243.28 L348.74 244.27 L348.88 245.26 L349.01 246.25 L349.14 247.24 L349.27 248.23 L349.40 249.22 L349.53 250.22 L349.65 251.21 L349.78 252.20 L349.91 253.19 L350.03 254.18 L350.16 255.17 L350.28 256.16 L350.41 257.15 L350.53 258.14 L350.66 259.13 L350.78 260.12 L350.91 261.11 L351.04 262.10 L351.17 263.09 L351.29 264.08 L351.42 265.07 L351.56 266.06 L351.69 267.05 L351.82 268.04 L351.96 269.03 L352.09 270.01 L352.23 271.00 L352.37 271.99 L352.52 272.98 L352.66 273.97 L352.81 274.95 L352.96 275.94 L353.11 276.92 L353.26 277.91 L353.42 278.90 L353.58 279.88 L353.75 280.87 L353.91 281.85 L354.08 282.84 L354.26 283.82 L354.43 284.80 L354.61 285.79 L354.80 286.77 L354.98 287.75 L355.17 288.73 L355.35 289.72 L355.54 290.70 L355.73 291.68 L355.93 292.66 L356.12 293.64 L356.31 294.62 L356.51 295.60 L356.70 296.59 L356.90 297.57 L357.09 298.55 L357.28 299.53 L357.48 300.51 L357.67 301.49 L357.86 302.48 L358.05 303.46 L358.24 304.44 L358.42 305.42 L358.61 306.41 L358.80 307.39 L358.98 308.37 L359.17 309.35 L359.37 310.33 L359.56 311.31 L359.76 312.29 L359.97 313.27 L360.18 314.24 L360.39 315.21 L360.62 316.18 L360.85 317.15 L361.10 318.12 L361.35 319.08 L361.61 320.04 L361.89 320.99 L362.18 321.95 L362.48 322.89 L362.79 323.84 L363.13 324.78 L363.47 325.72 L363.84 326.65 L364.22 327.57 L364.61 328.49 L365.03 329.41 L365.46 330.31 L365.91 331.21 L366.37 332.10 L366.85 332.98 L367.35 333.85 L367.87 334.71 L368.40 335.56 L368.95 336.40 L369.52 337.23 L370.10 338.04 L370.70 338.84 L371.32 339.63 L371.96 340.40 L372.61 341.15 L373.28 341.89 L373.97 342.62 L374.67 343.32 L375.39 344.01 L376.13 344.68 L376.88 345.33 L377.66 345.96 L378.44 346.57 L379.25 347.16 L380.06 347.73 L380.90 348.27 L381.74 348.80 L382.60 349.30 L383.48 349.78 L384.36 350.24 L385.26 350.67 L386.17 351.08 L387.09 351.46 L388.03 351.81 L388.97 352.15 L389.92 352.45 L390.88 352.73 L391.85 352.98 L392.83 353.20 L393.81 353.39 L394.80 353.56 L395.80 353.69 L395.80 353.69" stroke="#0f76c2"/>
<path d="M230.29 351.80 L231.29 351.70 L232.29 351.60 L233.29 351.49 L234.29 351.38 L235.29 351.27 L236.28 351.16 L237.28 351.04 L238.27 350.92 L239.27 350.80 L240.26 350.67 L241.25 350.54 L242.24 350.41 L243.24 350.27 L244.23 350.12 L245.21 349.98 L246.20 349.82 L247.19 349.67 L248.18 349.50 L249.16 349.34 L250.14 349.16 L251.13 348.99 L252.11 348.81 L253.09 348.62 L254.06 348.42 L255.04 348.22 L256.02 348.02 L256.99 347.81 L257.96 347.59 L258.93 347.37 L259.90 347.14 L260.87 346.90 L261.84 346.66 L262.80 346.41 L263.76 346.16 L264.72 345.89 L265.68 345.62 L266.64 345.34 L267.59 345.06 L268.54 344.77 L269.49 344.47 L270.44 344.16 L271.39 343.84 L272.33 343.52 L273.28 343.19 L274.22 342.84 L275.15 342.50 L276.09 342.14 L277.02 341.77 L277.95 341.40 L278.88 341.01 L279.81 340.62 L280.73 340.22 L281.65 339.81 L282.56 339.39 L283.47 338.96 L284.38 338.52 L285.28 338.07 L286.18 337.62 L287.07 337.15 L287.96 336.68 L288.84 336.19 L289.72 335.70 L290.59 335.20 L291.46 334.68 L292.32 334.16 L293.17 333.63 L294.02 333.09 L294.86 332.54 L295.69 331.98 L296.51 331.41 L297.33 330.83 L298.14 330.25 L298.94 329.65 L299.73 329.04 L300.52 328.42 L301.29 327.80 L302.06 327.16 L302.81 326.51 L303.56 325.86 L304.30 325.19 L305.03 324.52 L305.74 323.83 L306.45 323.13 L307.15 322.43 L307.83 321.71 L308.50 320.98 L309.17 320.25 L309.82 319.50 L310.45 318.74 L311.08 317.98 L311.69 317.20 L312.30 316.41 L312.88 315.61 L313.46 314.81 L314.02 313.99 L314.57 313.16 L315.10 312.32 L315.63 311.47 L316.14 310.62 L316.64 309.75 L317.12 308.88 L317.60 308.00 L318.06 307.11 L318.52 306.21 L318.96 305.31 L319.39 304.40 L319.81 303.49 L320.23 302.57 L320.63 301.64 L321.03 300.72 L321.41 299.78 L321.79 298.85 L322.16 297.91 L322.53 296.96 L322.88 296.02 L323.23 295.07 L323.57 294.12 L323.91 293.17 L324.24 292.22 L324.56 291.27 L324.88 290.32 L325.19 289.36 L325.50 288.41 L325.80 287.45 L326.10 286.50 L326.39 285.54 L326.68 284.58 L326.96 283.63 L327.23 282.67 L327.51 281.71 L327.77 280.75 L328.04 279.79 L328.30 278.82 L328.55 277.86 L328.80 276.90 L329.05 275.93 L329.29 274.97 L329.53 274.00 L329.77 273.04 L330.00 272.07 L330.23 271.10 L330.46 270.13 L330.68 269.16 L330.90 268.19 L331.12 267.22 L331.34 266.25 L331.55 265.27 L331.76 264.30 L331.97 263.33 L332.18 262.35 L332.38 261.37 L332.58 260.40 L332.78 259.42 L332.98 258.44 L333.18 257.46 L333.37 256.49 L333.57 255.51 L333.76 254.53 L333.95 253.55 L334.14 252.57 L334.33 251.58 L334.51 250.60 L334.70 249.62 L334.88 248.64 L335.07 247.65 L335.25 246.67 L335.44 245.69 L335.62 244.70 L335.80 243.72 L335.99 242.73 L336.17 241.75 L336.35 240.76 L336.53 239.78 L336.72 238.79 L336.90 237.80 L337.08 236.82 L337.27 235.83 L337.45 234.84 L337.64 233.86 L337.83 232.87 L338.01 231.88 L338.20 230.90 L338.39 229.91 L338.58 228.92 L338.77 227.94 L338.97 226.95 L339.16 225.96 L339.36 224.97 L339.55 223.99 L339.75 223.00 L339.96 222.01 L340.16 221.03 L340.36 220.05 L340.57 219.06 L340.77 218.08 L340.97 217.11 L341.18 216.14 L341.38 215.17 L341.58 214.20 L341.79 213.24 L341.99 212.28 L342.19 211.33 L342.39 210.38 L342.61 209.41 L342.85 208.44 L343.11 207.45 L343.25 206.94 L343.40 206.43 L343.56 205.92 L343.96 204.96 L344.52 204.19 L345.65 203.74 L346.57 204.66 L347.05 205.58 L347.46 206.52 L347.81 207.46 L348.12 208.42 L348.38 209.38 L348.61 210.36 L348.81 211.33 L348.98 212.31 L349.14 213.30 L349.29 214.29 L349.43 215.28 L349.58 216.27 L349.73 217.25 L349.90 218.24 L350.07 219.23 L350.25 220.21 L350.43 221.20 L350.62 222.18 L350.81 223.16 L351.00 224.15 L351.19 225.13 L351.38 226.11 L351.56 227.10 L351.74 228.08 L351.92 229.07 L352.08 230.05 L352.24 231.04 L352.39 232.03 L352.54 233.02 L352.68 234.01 L352.82 235.00 L352.95 235.99 L353.07 236.98 L353.20 237.97 L353.31 238.96 L353.42 239.96 L353.53 240.95 L353.64 241.94 L353.74 242.94 L353.84 243.93 L353.94 244.93 L354.03 245.92 L354.12 246.92 L354.21 247.91 L354.30 248.91 L354.38 249.91 L354.47 250.90 L354.55 251.90 L354.64 252.89 L354.72 253.89 L354.80 254.89 L354.89 255.88 L354.97 256.88 L355.05 257.88 L355.14 258.87 L355.22 259.87 L355.31 260.87 L355.40 261.86 L355.49 262.86 L355.58 263.86 L355.68 264.85 L355.78 265.85 L355.88 266.84 L355.98 267.84 L356.09 268.83 L356.20 269.82 L356.32 270.82 L356.44 271.81 L356.57 272.80 L356.70 273.79 L356.83 274.78 L356.97 275.78 L357.12 276.77 L357.26 277.75 L357.42 278.74 L357.57 279.73 L357.73 280.72 L357.90 281.71 L358.06 282.69 L358.23 283.68 L358.40 284.67 L358.57 285.65 L358.75 286.64 L358.92 287.63 L359.10 288.61 L359.27 289.60 L359.45 290.58 L359.62 291.57 L359.80 292.55 L359.97 293.54 L360.14 294.52 L360.31 295.51 L360.48 296.49 L360.64 297.48 L360.80 298.46 L360.96 299.45 L361.12 300.43 L361.27 301.42 L361.43 302.40 L361.58 303.39 L361.74 304.37 L361.90 305.36 L362.06 306.34 L362.22 307.32 L362.39 308.30 L362.56 309.28 L362.73 310.26 L362.92 311.24 L363.11 312.22 L363.30 313.19 L363.51 314.17 L363.72 315.14 L363.94 316.11 L364.18 317.08 L364.42 318.05 L364.68 319.02 L364.95 319.98 L365.23 320.94 L365.52 321.90 L365.83 322.86 L366.16 323.81 L366.50 324.76 L366.85 325.71 L367.22 326.65 L367.60 327.59 L368.00 328.51 L368.41 329.44 L368.84 330.35 L369.28 331.26 L369.74 332.16 L370.21 333.05 L370.70 333.93 L371.21 334.80 L371.72 335.66 L372.26 336.51 L372.81 337.34 L373.37 338.16 L373.96 338.97 L374.55 339.77 L375.17 340.55 L375.79 341.31 L376.44 342.06 L377.10 342.80 L377.78 343.51 L378.47 344.21 L379.18 344.89 L379.90 345.56 L380.64 346.20 L381.40 346.82 L382.18 347.43 L382.97 348.01 L383.78 348.57 L384.60 349.10 L385.44 349.62 L386.30 350.11 L387.18 350.58 L388.07 351.02 L388.98 351.44 L389.90 351.83 L390.85 352.19 L391.81 352.53 L392.79 352.84 L393.78 353.12 L394.80 353.37 L395.83 353.59 L395.83 353.59" stroke="#dc563a"/>
<path d="M230.30 352.50 L231.29 352.39 L232.28 352.28 L233.27 352.17 L234.26 352.06 L235.25 351.95 L236.24 351.84 L237.24 351.72 L238.23 351.61 L239.22 351.49 L240.21 351.37 L241.21 351.25 L242.20 351.13 L243.19 351.01 L244.19 350.88 L245.18 350.75 L246.17 350.62 L247.16 350.48 L248.16 350.34 L249.15 350.20 L250.14 350.06 L251.13 349.91 L252.12 349.76 L253.11 349.60 L254.10 349.44 L255.08 349.28 L256.07 349.11 L257.05 348.93 L258.04 348.75 L259.02 348.57 L260.00 348.38 L260.98 348.18 L261.96 347.98 L262.94 347.77 L263.92 347.56 L264.89 347.34 L265.87 347.11 L266.84 346.88 L267.81 346.64 L268.78 346.39 L269.74 346.14 L270.70 345.87 L271.67 345.60 L272.63 345.33 L273.58 345.04 L274.54 344.75 L275.49 344.44 L276.44 344.13 L277.39 343.81 L278.33 343.49 L279.28 343.15 L280.21 342.80 L281.15 342.45 L282.08 342.08 L283.01 341.70 L283.94 341.32 L284.86 340.93 L285.78 340.52 L286.70 340.11 L287.61 339.69 L288.51 339.26 L289.41 338.82 L290.31 338.37 L291.20 337.91 L292.08 337.44 L292.96 336.96 L293.84 336.47 L294.71 335.97 L295.57 335.47 L296.42 334.95 L297.27 334.42 L298.12 333.89 L298.95 333.34 L299.78 332.78 L300.60 332.22 L301.42 331.64 L302.22 331.06 L303.02 330.46 L303.81 329.86 L304.59 329.24 L305.37 328.62 L306.13 327.98 L306.89 327.34 L307.63 326.68 L308.37 326.02 L309.10 325.35 L309.82 324.66 L310.53 323.97 L311.22 323.26 L311.91 322.55 L312.59 321.83 L313.26 321.09 L313.92 320.35 L314.56 319.59 L315.20 318.83 L315.82 318.05 L316.43 317.27 L317.03 316.47 L317.62 315.67 L318.20 314.85 L318.76 314.03 L319.31 313.19 L319.85 312.35 L320.38 311.50 L320.90 310.64 L321.41 309.77 L321.90 308.89 L322.39 308.01 L322.86 307.12 L323.32 306.22 L323.78 305.32 L324.22 304.41 L324.65 303.50 L325.07 302.58 L325.48 301.65 L325.89 300.73 L326.28 299.79 L326.66 298.86 L327.03 297.92 L327.40 296.98 L327.75 296.03 L328.09 295.09 L328.43 294.14 L328.76 293.19 L329.07 292.24 L329.38 291.28 L329.69 290.33 L329.98 289.38 L330.27 288.42 L330.54 287.46 L330.82 286.51 L331.08 285.55 L331.34 284.59 L331.59 283.63 L331.84 282.66 L332.08 281.70 L332.32 280.74 L332.55 279.77 L332.78 278.81 L333.01 277.84 L333.23 276.87 L333.44 275.90 L333.66 274.93 L333.87 273.96 L334.08 272.99 L334.28 272.02 L334.49 271.04 L334.69 270.07 L334.89 269.09 L335.09 268.12 L335.29 267.14 L335.49 266.16 L335.68 265.19 L335.88 264.21 L336.07 263.23 L336.26 262.25 L336.46 261.27 L336.65 260.28 L336.84 259.30 L337.02 258.32 L337.21 257.34 L337.40 256.35 L337.58 255.37 L337.77 254.38 L337.95 253.40 L338.13 252.41 L338.32 251.43 L338.50 250.44 L338.68 249.46 L338.86 248.47 L339.03 247.48 L339.21 246.50 L339.39 245.51 L339.56 244.52 L339.74 243.53 L339.91 242.55 L340.09 241.56 L340.26 240.57 L340.43 239.58 L340.60 238.60 L340.77 237.61 L340.94 236.62 L341.11 235.63 L341.28 234.65 L341.45 233.66 L341.61 232.67 L341.78 231.69 L341.95 230.70 L342.11 229.71 L342.28 228.73 L342.44 227.74 L342.61 226.76 L342.77 225.77 L342.93 224.79 L343.10 223.81 L343.26 222.82 L343.42 221.84 L343.58 220.86 L343.75 219.87 L343.91 218.89 L344.07 217.91 L344.23 216.93 L344.40 215.95 L344.57 214.96 L344.73 213.98 L344.91 212.99 L345.08 212.01 L345.25 211.02 L345.43 210.03 L345.61 209.04 L345.80 208.06 L345.99 207.07 L346.19 206.09 L346.41 205.12 L346.65 204.16 L346.91 203.21 L347.20 202.26 L347.50 201.27 L347.66 200.75 L347.82 200.22 L348.22 199.43 L349.02 199.63 L349.45 200.38 L349.78 201.37 L349.93 201.90 L350.07 202.43 L350.22 202.93 L350.54 203.88 L350.84 204.79 L351.12 205.71 L351.36 206.66 L351.57 207.63 L351.77 208.62 L351.94 209.61 L352.03 210.12 L352.12 210.62 L352.20 211.12 L352.29 211.62 L352.47 212.62 L352.65 213.61 L352.84 214.60 L353.03 215.59 L353.22 216.57 L353.42 217.56 L353.61 218.54 L353.80 219.52 L353.98 220.50 L354.17 221.47 L354.35 222.45 L354.52 223.43 L354.69 224.41 L354.85 225.40 L355.00 226.38 L355.15 227.36 L355.30 228.35 L355.44 229.33 L355.57 230.32 L355.70 231.31 L355.83 232.30 L355.95 233.29 L356.07 234.28 L356.18 235.27 L356.29 236.26 L356.40 237.25 L356.50 238.24 L356.60 239.24 L356.70 240.23 L356.79 241.23 L356.89 242.22 L356.98 243.22 L357.07 244.21 L357.15 245.21 L357.24 246.20 L357.32 247.20 L357.41 248.20 L357.49 249.20 L357.57 250.19 L357.65 251.19 L357.73 252.19 L357.82 253.19 L357.90 254.18 L357.98 255.18 L358.06 256.18 L358.15 257.18 L358.23 258.17 L358.32 259.17 L358.40 260.17 L358.49 261.17 L358.59 262.16 L358.68 263.16 L358.77 264.16 L358.87 265.15 L358.97 266.15 L359.08 267.14 L359.19 268.14 L359.30 269.13 L359.41 270.13 L359.53 271.12 L359.65 272.11 L359.78 273.11 L359.90 274.10 L360.04 275.09 L360.17 276.08 L360.31 277.07 L360.45 278.06 L360.59 279.05 L360.73 280.04 L360.88 281.03 L361.02 282.02 L361.17 283.01 L361.32 284.00 L361.47 284.98 L361.62 285.97 L361.77 286.96 L361.92 287.95 L362.06 288.94 L362.21 289.92 L362.36 290.91 L362.51 291.90 L362.65 292.89 L362.79 293.87 L362.93 294.86 L363.07 295.85 L363.21 296.84 L363.35 297.83 L363.48 298.81 L363.62 299.80 L363.76 300.79 L363.90 301.78 L364.04 302.76 L364.18 303.75 L364.33 304.74 L364.48 305.72 L364.63 306.71 L364.79 307.69 L364.95 308.67 L365.12 309.65 L365.30 310.64 L365.48 311.62 L365.67 312.60 L365.87 313.58 L366.08 314.55 L366.29 315.53 L366.51 316.51 L366.75 317.48 L366.99 318.45 L367.25 319.42 L367.52 320.39 L367.79 321.36 L368.08 322.32 L368.39 323.28 L368.70 324.24 L369.03 325.19 L369.37 326.13 L369.73 327.07 L370.10 328.01 L370.48 328.93 L370.88 329.85 L371.29 330.77 L371.72 331.67 L372.16 332.56 L372.62 333.45 L373.10 334.32 L373.59 335.19 L374.10 336.04 L374.63 336.89 L375.18 337.72 L375.74 338.54 L376.32 339.34 L376.92 340.14 L377.54 340.91 L378.18 341.68 L378.83 342.43 L379.51 343.16 L380.20 343.88 L380.91 344.58 L381.63 345.26 L382.37 345.92 L383.13 346.57 L383.91 347.20 L384.70 347.80 L385.51 348.39 L386.33 348.96 L387.16 349.50 L388.02 350.02 L388.88 350.52 L389.76 351.00 L390.66 351.45 L391.56 351.88 L392.48 352.28 L393.42 352.66 L394.37 353.01 L395.33 353.33 L395.81 353.49" stroke="#f0a244"/>
<path d="M230.30 353.39 L231.29 353.31 L232.29 353.22 L233.28 353.12 L234.28 353.03 L235.28 352.94 L236.27 352.84 L237.27 352.75 L238.26 352.65 L239.26 352.55 L240.25 352.44 L241.24 352.34 L242.24 352.23 L243.23 352.12 L244.23 352.01 L245.22 351.89 L246.21 351.77 L247.20 351.65 L248.19 351.52 L249.18 351.39 L250.18 351.26 L251.16 351.13 L252.15 350.99 L253.14 350.85 L254.13 350.70 L255.12 350.55 L256.10 350.39 L257.09 350.23 L258.07 350.07 L259.05 349.90 L260.03 349.73 L261.02 349.55 L262.00 349.37 L262.97 349.18 L263.95 348.99 L264.93 348.79 L265.90 348.58 L266.88 348.37 L267.85 348.16 L268.82 347.94 L269.79 347.71 L270.76 347.48 L271.73 347.24 L272.69 346.99 L273.66 346.74 L274.62 346.48 L275.58 346.21 L276.54 345.94 L277.50 345.66 L278.46 345.37 L279.41 345.08 L280.36 344.78 L281.32 344.47 L282.26 344.15 L283.21 343.82 L284.16 343.49 L285.10 343.15 L286.04 342.80 L286.97 342.44 L287.90 342.07 L288.83 341.70 L289.75 341.31 L290.67 340.92 L291.59 340.51 L292.50 340.10 L293.41 339.67 L294.31 339.24 L295.20 338.79 L296.09 338.33 L296.98 337.87 L297.86 337.39 L298.73 336.90 L299.59 336.40 L300.45 335.89 L301.30 335.36 L302.15 334.83 L302.98 334.28 L303.81 333.72 L304.63 333.15 L305.45 332.56 L306.25 331.97 L307.05 331.36 L307.84 330.74 L308.62 330.11 L309.39 329.47 L310.15 328.82 L310.90 328.15 L311.64 327.48 L312.37 326.79 L313.09 326.10 L313.80 325.40 L314.50 324.68 L315.20 323.96 L315.87 323.23 L316.54 322.48 L317.20 321.73 L317.85 320.97 L318.48 320.20 L319.10 319.43 L319.71 318.64 L320.31 317.85 L320.90 317.05 L321.47 316.24 L322.04 315.43 L322.59 314.60 L323.12 313.77 L323.65 312.94 L324.17 312.09 L324.67 311.24 L325.17 310.39 L325.65 309.52 L326.12 308.65 L326.58 307.78 L327.03 306.90 L327.47 306.01 L327.91 305.12 L328.33 304.22 L328.74 303.32 L329.14 302.41 L329.54 301.50 L329.92 300.58 L330.30 299.66 L330.67 298.73 L331.03 297.80 L331.38 296.87 L331.72 295.93 L332.06 294.99 L332.39 294.04 L332.71 293.09 L333.02 292.14 L333.33 291.18 L333.63 290.22 L333.92 289.26 L334.21 288.30 L334.49 287.33 L334.76 286.36 L335.03 285.39 L335.29 284.42 L335.55 283.44 L335.80 282.47 L336.04 281.49 L336.28 280.51 L336.52 279.53 L336.75 278.55 L336.98 277.57 L337.20 276.58 L337.42 275.60 L337.63 274.62 L337.84 273.63 L338.05 272.65 L338.25 271.66 L338.45 270.68 L338.65 269.70 L338.85 268.71 L339.04 267.73 L339.23 266.75 L339.41 265.77 L339.60 264.79 L339.78 263.81 L339.96 262.82 L340.14 261.84 L340.31 260.86 L340.48 259.88 L340.66 258.90 L340.82 257.92 L340.99 256.94 L341.16 255.96 L341.32 254.98 L341.48 254.00 L341.64 253.03 L341.80 252.05 L341.96 251.07 L342.12 250.09 L342.27 249.11 L342.43 248.13 L342.58 247.15 L342.74 246.17 L342.89 245.18 L343.04 244.20 L343.19 243.22 L343.34 242.24 L343.49 241.26 L343.64 240.28 L343.79 239.29 L343.94 238.31 L344.09 237.33 L344.24 236.34 L344.39 235.36 L344.54 234.37 L344.69 233.39 L344.84 232.40 L344.99 231.42 L345.15 230.43 L345.30 229.44 L345.45 228.45 L345.61 227.46 L345.76 226.47 L345.92 225.48 L346.08 224.49 L346.24 223.50 L346.40 222.50 L346.56 221.51 L346.72 220.52 L346.89 219.52 L347.05 218.52 L347.21 217.53 L347.38 216.53 L347.54 215.54 L347.70 214.54 L347.86 213.55 L348.01 212.56 L348.16 211.57 L348.31 210.58 L348.45 209.60 L348.59 208.61 L348.73 207.63 L348.86 206.65 L348.99 205.67 L349.13 204.70 L349.28 203.72 L349.45 202.75 L349.62 201.77 L349.82 200.80 L350.04 199.82 L350.29 198.84 L350.57 197.86 L350.88 196.88 L351.26 195.92 L351.79 195.17 L352.65 195.27 L353.08 196.21 L353.26 196.71 L353.57 197.70 L353.84 198.66 L354.09 199.63 L354.34 200.59 L354.57 201.56 L354.80 202.53 L355.02 203.50 L355.23 204.47 L355.44 205.45 L355.64 206.43 L355.83 207.41 L356.01 208.39 L356.19 209.37 L356.36 210.36 L356.52 211.35 L356.68 212.33 L356.83 213.32 L356.98 214.31 L357.12 215.30 L357.26 216.29 L357.40 217.28 L357.52 218.28 L357.65 219.27 L357.77 220.26 L357.89 221.25 L358.01 222.24 L358.12 223.24 L358.22 224.23 L358.33 225.22 L358.43 226.22 L358.53 227.21 L358.63 228.20 L358.72 229.20 L358.81 230.19 L358.90 231.19 L358.99 232.18 L359.07 233.17 L359.16 234.17 L359.24 235.16 L359.32 236.16 L359.39 237.15 L359.47 238.15 L359.55 239.14 L359.62 240.14 L359.70 241.14 L359.77 242.13 L359.84 243.13 L359.91 244.12 L359.99 245.12 L360.06 246.11 L360.13 247.11 L360.20 248.11 L360.27 249.10 L360.34 250.10 L360.42 251.09 L360.49 252.09 L360.57 253.08 L360.64 254.08 L360.72 255.08 L360.79 256.07 L360.87 257.07 L360.95 258.06 L361.04 259.06 L361.12 260.05 L361.20 261.05 L361.29 262.04 L361.38 263.04 L361.47 264.03 L361.57 265.02 L361.67 266.02 L361.77 267.01 L361.87 268.01 L361.97 269.00 L362.08 269.99 L362.19 270.99 L362.30 271.98 L362.42 272.97 L362.53 273.97 L362.65 274.96 L362.77 275.95 L362.89 276.94 L363.01 277.94 L363.13 278.93 L363.26 279.92 L363.38 280.91 L363.51 281.90 L363.64 282.89 L363.76 283.88 L363.89 284.87 L364.02 285.87 L364.15 286.86 L364.28 287.85 L364.41 288.84 L364.54 289.83 L364.67 290.82 L364.80 291.80 L364.93 292.79 L365.06 293.78 L365.19 294.77 L365.32 295.76 L365.45 296.75 L365.59 297.73 L365.73 298.72 L365.86 299.71 L366.01 300.69 L366.15 301.68 L366.30 302.67 L366.45 303.65 L366.61 304.63 L366.77 305.62 L366.94 306.60 L367.11 307.58 L367.29 308.56 L367.47 309.55 L367.66 310.53 L367.85 311.50 L368.05 312.48 L368.26 313.46 L368.48 314.44 L368.71 315.41 L368.94 316.39 L369.18 317.36 L369.43 318.33 L369.69 319.30 L369.96 320.27 L370.25 321.23 L370.54 322.19 L370.84 323.14 L371.15 324.09 L371.48 325.04 L371.82 325.98 L372.17 326.92 L372.53 327.85 L372.91 328.77 L373.30 329.68 L373.71 330.59 L374.13 331.50 L374.56 332.39 L375.01 333.28 L375.48 334.15 L375.96 335.02 L376.46 335.88 L376.98 336.73 L377.51 337.57 L378.07 338.40 L378.64 339.21 L379.22 340.02 L379.83 340.81 L380.45 341.59 L381.09 342.36 L381.75 343.11 L382.42 343.85 L383.11 344.57 L383.82 345.28 L384.54 345.97 L385.28 346.64 L386.04 347.29 L386.81 347.92 L387.59 348.54 L388.40 349.13 L389.21 349.71 L390.04 350.26 L390.89 350.79 L391.75 351.30 L392.63 351.78 L393.52 352.24 L394.43 352.68 L395.35 353.09 L395.81 353.28" stroke="#8a34de"/>
</g>
<path d="M230.30 355.70 v-4.0 M230.30 190.30 v4.0 M254.19 355.70 v-4.0 M254.19 190.30 v4.0 M278.08 355.70 v-4.0 M278.08 190.30 v4.0 M301.98 355.70 v-4.0 M301.98 190.30 v4.0 M325.87 355.70 v-4.0 M325.87 190.30 v4.0 M349.76 355.70 v-4.0 M349.76 190.30 v4.0 M373.65 355.70 v-4.0 M373.65 190.30 v4.0 M230.30 310.10 h4.2 M395.75 310.10 h-4.2 M230.30 263.90 h4.2 M395.75 263.90 h-4.2 M230.30 217.70 h4.2 M395.75 217.70 h-4.2 M230.30 333.20 h2.4 M395.75 333.20 h-2.4 M230.30 287.00 h2.4 M395.75 287.00 h-2.4 M230.30 240.80 h2.4 M395.75 240.80 h-2.4 M230.30 194.60 h2.4 M395.75 194.60 h-2.4" stroke="#202020" stroke-width="0.9" fill="none"/>
<rect x="230.30" y="190.30" width="165.45" height="165.40" fill="none" stroke="#202020" stroke-width="1.2"/>
<path d="M70.2 60.7 H97.9" stroke="#0f76c2" stroke-width="1.7" fill="none"/>
<path d="M70.2 71.5 H97.9" stroke="#dc563a" stroke-width="1.7" fill="none"/>
<path d="M70.2 82.2 H97.9" stroke="#f0a244" stroke-width="1.7" fill="none"/>
<path d="M70.2 93.0 H97.9" stroke="#8a34de" stroke-width="1.7" fill="none"/>
<g opacity="0.999">
<text transform="translate(33.90 183.70) rotate(0.05) scale(1.000 1)" text-anchor="middle" font-size="10.10">0.5</text>
<text transform="translate(67.00 183.70) rotate(0.05) scale(1.000 1)" text-anchor="middle" font-size="10.10">0.6</text>
<text transform="translate(100.10 183.70) rotate(0.05) scale(1.000 1)" text-anchor="middle" font-size="10.10">0.7</text>
<text transform="translate(133.20 183.70) rotate(0.05) scale(1.000 1)" text-anchor="middle" font-size="10.10">0.8</text>
<text transform="translate(166.30 183.70) rotate(0.05) scale(1.000 1)" text-anchor="middle" font-size="10.10">0.9</text>
<text transform="translate(199.40 183.70) rotate(0.05) scale(1.000 1)" text-anchor="middle" font-size="10.10">1</text>
<text transform="translate(30.10 111.40) rotate(0.05) scale(1.000 1)" text-anchor="end" font-size="10.10">10</text>
<text transform="translate(30.10 44.50) rotate(0.05) scale(1.000 1)" text-anchor="end" font-size="10.10">20</text>
<text transform="translate(45.70 26.55) rotate(0.05) scale(1.000 1)" text-anchor="start" font-size="10.10">(a) He-case a</text>
<text transform="translate(13.0 91.3) rotate(-90) scale(1.090 1)" text-anchor="middle" font-size="9.9">K<tspan font-size="7.2" dy="2">B</tspan><tspan dy="-2">/I</tspan><tspan font-size="7.2" dy="2">15</tspan><tspan dy="-2">(10</tspan><tspan font-size="7.2" dy="-3.6">-3</tspan><tspan dy="3.6">/λ</tspan><tspan font-size="7.2" dy="2">0</tspan><tspan dy="-2">)</tspan></text>
<text transform="translate(231.50 183.70) rotate(0.05) scale(1.000 1)" text-anchor="middle" font-size="10.10">0.2</text>
<text transform="translate(263.60 183.70) rotate(0.05) scale(1.000 1)" text-anchor="middle" font-size="10.10">0.4</text>
<text transform="translate(295.69 183.70) rotate(0.05) scale(1.000 1)" text-anchor="middle" font-size="10.10">0.6</text>
<text transform="translate(327.79 183.70) rotate(0.05) scale(1.000 1)" text-anchor="middle" font-size="10.10">0.8</text>
<text transform="translate(359.88 183.70) rotate(0.05) scale(1.000 1)" text-anchor="middle" font-size="10.10">1</text>
<text transform="translate(391.98 183.70) rotate(0.05) scale(1.000 1)" text-anchor="middle" font-size="10.10">1.2</text>
<text transform="translate(227.70 139.20) rotate(0.05) scale(1.000 1)" text-anchor="end" font-size="10.10">1</text>
<text transform="translate(227.70 91.80) rotate(0.05) scale(1.000 1)" text-anchor="end" font-size="10.10">2</text>
<text transform="translate(227.70 44.40) rotate(0.05) scale(1.000 1)" text-anchor="end" font-size="10.10">3</text>
<text transform="translate(243.30 26.55) rotate(0.05) scale(1.000 1)" text-anchor="start" font-size="10.10">(b) He-case b</text>
<text transform="translate(216.1 91.3) rotate(-90) scale(1.090 1)" text-anchor="middle" font-size="9.9">K<tspan font-size="7.2" dy="2">B</tspan><tspan dy="-2">/I</tspan><tspan font-size="7.2" dy="2">15</tspan><tspan dy="-2">(10</tspan><tspan font-size="7.2" dy="-3.6">-3</tspan><tspan dy="3.6">/λ</tspan><tspan font-size="7.2" dy="2">0</tspan><tspan dy="-2">)</tspan></text>
<text transform="translate(47.69 364.95) rotate(0.05) scale(1.000 1)" text-anchor="middle" font-size="10.10">0.4</text>
<text transform="translate(75.28 364.95) rotate(0.05) scale(1.000 1)" text-anchor="middle" font-size="10.10">0.6</text>
<text transform="translate(102.86 364.95) rotate(0.05) scale(1.000 1)" text-anchor="middle" font-size="10.10">0.8</text>
<text transform="translate(130.44 364.95) rotate(0.05) scale(1.000 1)" text-anchor="middle" font-size="10.10">1</text>
<text transform="translate(158.02 364.95) rotate(0.05) scale(1.000 1)" text-anchor="middle" font-size="10.10">1.2</text>
<text transform="translate(185.61 364.95) rotate(0.05) scale(1.000 1)" text-anchor="middle" font-size="10.10">1.4</text>
<text transform="translate(30.10 323.45) rotate(0.05) scale(1.000 1)" text-anchor="end" font-size="10.10">1</text>
<text transform="translate(30.10 278.50) rotate(0.05) scale(1.000 1)" text-anchor="end" font-size="10.10">2</text>
<text transform="translate(30.10 233.55) rotate(0.05) scale(1.000 1)" text-anchor="end" font-size="10.10">3</text>
<text transform="translate(45.70 208.60) rotate(0.05) scale(1.000 1)" text-anchor="start" font-size="10.10">(c) HHe-case a</text>
<text transform="translate(18.5 273.0) rotate(-90) scale(1.090 1)" text-anchor="middle" font-size="9.9">K<tspan font-size="7.2" dy="2">B</tspan><tspan dy="-2">/I</tspan><tspan font-size="7.2" dy="2">15</tspan><tspan dy="-2">(10</tspan><tspan font-size="7.2" dy="-3.6">-3</tspan><tspan dy="3.6">/λ</tspan><tspan font-size="7.2" dy="2">0</tspan><tspan dy="-2">)</tspan></text>
<text transform="translate(115.4 376.3) scale(1.090 1)" text-anchor="middle" font-size="9.9">λ<tspan font-size="7.2" dy="2">B</tspan><tspan dy="-2">-λ</tspan><tspan font-size="7.2" dy="2">0</tspan><tspan dy="-2">(nm)</tspan></text>
<text transform="translate(231.50 364.95) rotate(0.05) scale(1.000 1)" text-anchor="middle" font-size="10.10">0.2</text>
<text transform="translate(255.39 364.95) rotate(0.05) scale(1.000 1)" text-anchor="middle" font-size="10.10">0.3</text>
<text transform="translate(279.28 364.95) rotate(0.05) scale(1.000 1)" text-anchor="middle" font-size="10.10">0.4</text>
<text transform="translate(303.18 364.95) rotate(0.05) scale(1.000 1)" text-anchor="middle" font-size="10.10">0.5</text>
<text transform="translate(327.07 364.95) rotate(0.05) scale(1.000 1)" text-anchor="middle" font-size="10.10">0.6</text>
<text transform="translate(350.96 364.95) rotate(0.05) scale(1.000 1)" text-anchor="middle" font-size="10.10">0.7</text>
<text transform="translate(374.85 364.95) rotate(0.05) scale(1.000 1)" text-anchor="middle" font-size="10.10">0.8</text>
<text transform="translate(227.70 313.30) rotate(0.05) scale(1.000 1)" text-anchor="end" font-size="10.10">5</text>
<text transform="translate(227.70 267.10) rotate(0.05) scale(1.000 1)" text-anchor="end" font-size="10.10">10</text>
<text transform="translate(227.70 220.90) rotate(0.05) scale(1.000 1)" text-anchor="end" font-size="10.10">15</text>
<text transform="translate(243.30 208.60) rotate(0.05) scale(1.000 1)" text-anchor="start" font-size="10.10">(d) HHe-case c</text>
<text transform="translate(210.6 273.0) rotate(-90) scale(1.090 1)" text-anchor="middle" font-size="9.9">K<tspan font-size="7.2" dy="2">B</tspan><tspan dy="-2">/I</tspan><tspan font-size="7.2" dy="2">15</tspan><tspan dy="-2">(10</tspan><tspan font-size="7.2" dy="-3.6">-3</tspan><tspan dy="3.6">/λ</tspan><tspan font-size="7.2" dy="2">0</tspan><tspan dy="-2">)</tspan></text>
<text transform="translate(313.0 376.3) scale(1.090 1)" text-anchor="middle" font-size="9.9">λ<tspan font-size="7.2" dy="2">B</tspan><tspan dy="-2">-λ</tspan><tspan font-size="7.2" dy="2">0</tspan><tspan dy="-2">(nm)</tspan></text>
<text transform="translate(60.40 50.90) rotate(0.05) scale(1.000 1)" text-anchor="middle" font-size="10.10">m</text>
<text transform="translate(63.90 63.90) rotate(0.05) scale(1.000 1)" text-anchor="end" font-size="10.10">2.0</text>
<text transform="translate(63.90 74.65) rotate(0.05) scale(1.000 1)" text-anchor="end" font-size="10.10">2.3</text>
<text transform="translate(63.90 85.40) rotate(0.05) scale(1.000 1)" text-anchor="end" font-size="10.10">2.6</text>
<text transform="translate(63.90 96.15) rotate(0.05) scale(1.000 1)" text-anchor="end" font-size="10.10">2.9</text>
</g>
</svg></body></html>
